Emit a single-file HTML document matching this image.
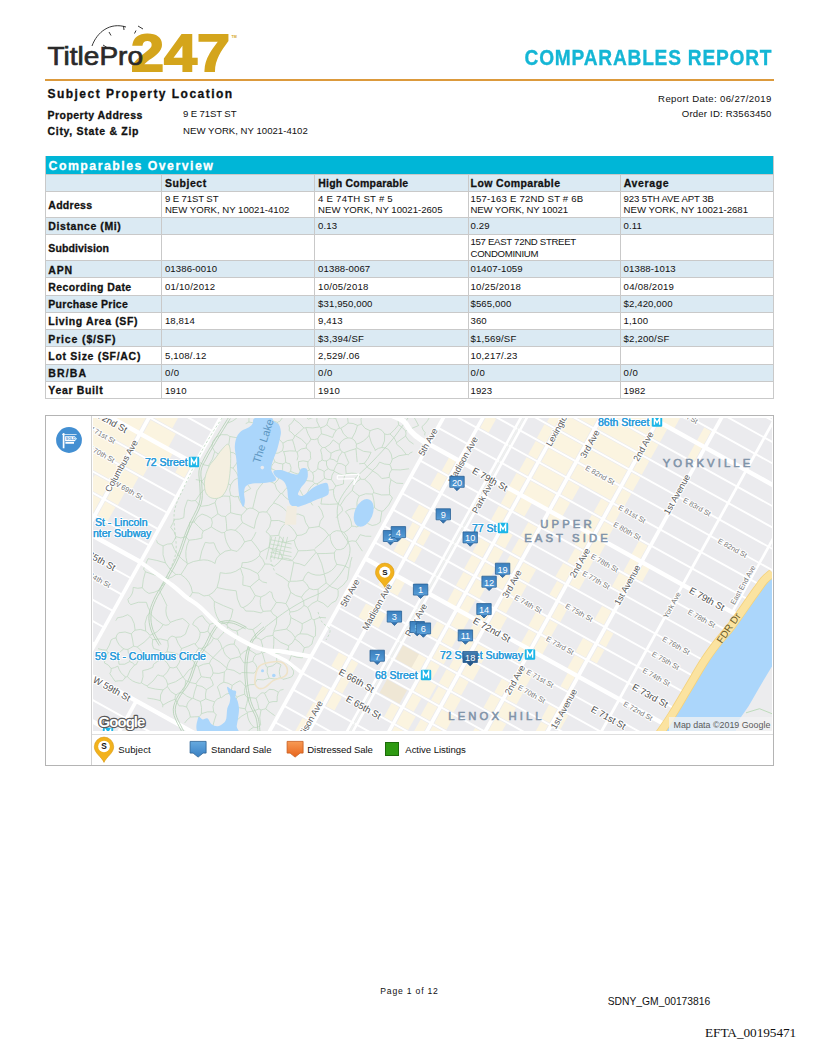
<!DOCTYPE html>
<html><head><meta charset="utf-8">
<style>
html,body{margin:0;padding:0;background:#fff;}
body{width:816px;height:1056px;position:relative;overflow:hidden;font-family:"Liberation Sans",sans-serif;color:#111;}
.abs{position:absolute;white-space:nowrap;}
.t{position:absolute;white-space:nowrap;line-height:1;}
.r{position:absolute;}
#rule{position:absolute;left:45px;top:79.2px;width:728.5px;height:1.7px;background:#dc9a3c;}
</style></head><body>
<!-- LOGO -->
<svg class="abs" style="left:40px;top:18px" width="210" height="60" viewBox="40 18 210 60">
 <path d="M92 46 C97 32 110 22 126 27" fill="none" stroke="#222" stroke-width="0.9"/>
 <path d="M103 45 L107 47.5 M109 32 L111 35.5 M123.5 26 L124 30 M136 30.5 L134.5 33.5 M138 26 L143 29" fill="none" stroke="#222" stroke-width="0.9"/>
 <text x="131" y="71.3" font-family="Liberation Sans" font-weight="bold" font-size="52.5" fill="#d4a51c" stroke="#d4a51c" stroke-width="1.8" textLength="99" lengthAdjust="spacingAndGlyphs">247</text>
 <text x="47.5" y="65" font-family="Liberation Sans" font-size="26.5" fill="#2a2a2a" textLength="95.5" lengthAdjust="spacingAndGlyphs" stroke="#2a2a2a" stroke-width="0.7">TitlePro</text>
 <text x="231.5" y="37.5" font-family="Liberation Sans" font-size="3.6" font-weight="bold" fill="#d4a51c">TM</text>
</svg>
<div id="rule"></div>
<div class="r" style="left:45px;top:155.6px;width:728.5px;height:18.4px;background:#00b6d7;"></div>
<div class="r" style="left:45px;top:174.0px;width:728.5px;height:17.0px;background:#dbeaf3;"></div>
<div class="r" style="left:45px;top:217.0px;width:728.5px;height:17.7px;background:#dbeaf3;"></div>
<div class="r" style="left:45px;top:260.2px;width:728.5px;height:17.4px;background:#dbeaf3;"></div>
<div class="r" style="left:45px;top:295.0px;width:728.5px;height:17.3px;background:#dbeaf3;"></div>
<div class="r" style="left:45px;top:329.5px;width:728.5px;height:17.1px;background:#dbeaf3;"></div>
<div class="r" style="left:45px;top:364.0px;width:728.5px;height:17.4px;background:#dbeaf3;"></div>
<div class="r" style="left:45px;top:173.5px;width:728.5px;height:1px;background:#c9c9c9;"></div>
<div class="r" style="left:45px;top:190.5px;width:728.5px;height:1px;background:#c9c9c9;"></div>
<div class="r" style="left:45px;top:216.5px;width:728.5px;height:1px;background:#c9c9c9;"></div>
<div class="r" style="left:45px;top:234.2px;width:728.5px;height:1px;background:#c9c9c9;"></div>
<div class="r" style="left:45px;top:259.7px;width:728.5px;height:1px;background:#c9c9c9;"></div>
<div class="r" style="left:45px;top:277.1px;width:728.5px;height:1px;background:#c9c9c9;"></div>
<div class="r" style="left:45px;top:294.5px;width:728.5px;height:1px;background:#c9c9c9;"></div>
<div class="r" style="left:45px;top:311.8px;width:728.5px;height:1px;background:#c9c9c9;"></div>
<div class="r" style="left:45px;top:329.0px;width:728.5px;height:1px;background:#c9c9c9;"></div>
<div class="r" style="left:45px;top:346.1px;width:728.5px;height:1px;background:#c9c9c9;"></div>
<div class="r" style="left:45px;top:363.5px;width:728.5px;height:1px;background:#c9c9c9;"></div>
<div class="r" style="left:45px;top:380.9px;width:728.5px;height:1px;background:#c9c9c9;"></div>
<div class="r" style="left:45px;top:397.9px;width:728.5px;height:1px;background:#c9c9c9;"></div>
<div class="r" style="left:44.5px;top:156px;width:1px;height:242.9px;background:#c9c9c9;"></div>
<div class="r" style="left:161.1px;top:174px;width:1px;height:224.9px;background:#c9c9c9;"></div>
<div class="r" style="left:314.3px;top:174px;width:1px;height:224.9px;background:#c9c9c9;"></div>
<div class="r" style="left:467.5px;top:174px;width:1px;height:224.9px;background:#c9c9c9;"></div>
<div class="r" style="left:619.8px;top:174px;width:1px;height:224.9px;background:#c9c9c9;"></div>
<div class="r" style="left:772.5px;top:156px;width:1px;height:242.9px;background:#c9c9c9;"></div>
<!-- MAPBOX -->
<div class="abs" style="left:45px;top:415px;width:727px;height:348.8px;border:1px solid #b4b4b4;"></div>
<div class="abs" style="left:91px;top:416px;width:1px;height:349px;background:#d2d2d2;"></div>
<div class="abs" style="left:92px;top:734.2px;width:680.5px;height:1px;background:#dedede;"></div>
<svg class="abs" style="left:55px;top:425.5px" width="28" height="28" viewBox="-14 -14 28 28"><circle r="12.9" fill="#438fd2"/>
<path d="M-5.4 -6.9 v15.2" fill="none" stroke="#fff" stroke-width="1.7"/>
<path d="M-7 -5.5 h14.6" fill="none" stroke="#fff" stroke-width="0.7"/>
<path d="M-3.9 -3.8 h9.6 l2.2 2.5 l-2.2 2.5 h-9.6z M-3.6 2 h8.6 v1.7 h-8.6z" fill="#fff"/>
<text x="-3.2" y="-0.1" font-family="Liberation Sans" font-size="3.5" font-weight="bold" fill="#438fd2">SOLD</text></svg>
<svg class="abs" style="left:93px;top:418px" width="679" height="313" viewBox="93 418 679 313">
<defs><filter id="bl" x="83" y="408" width="699" height="333" filterUnits="userSpaceOnUse"><feGaussianBlur stdDeviation="0.45"/></filter></defs><g filter="url(#bl)"><rect x="93" y="418" width="679" height="313" fill="#ebebee"/>
<polygon points="530.7,480.9 555.2,494.5 547.7,508.0 523.2,494.4" fill="#fbf4e0"/>
<polygon points="539.8,464.5 564.3,478.1 556.7,491.7 532.3,478.1" fill="#fbf4e0"/>
<polygon points="548.8,448.2 573.3,461.7 565.8,475.3 541.3,461.7" fill="#fbf4e0"/>
<polygon points="557.9,431.8 582.4,445.4 574.9,458.9 550.4,445.4" fill="#fbf4e0"/>
<polygon points="567.0,415.5 591.5,429.0 583.9,442.6 559.5,429.0" fill="#fbf4e0"/>
<polygon points="576.0,399.1 600.5,412.7 593.0,426.2 568.5,412.7" fill="#fbf4e0"/>
<polygon points="585.1,382.8 609.6,396.3 602.1,409.9 577.6,396.3" fill="#fbf4e0"/>
<polygon points="594.2,366.4 618.7,380.0 611.1,393.5 586.6,380.0" fill="#fbf4e0"/>
<polygon points="603.2,350.0 627.7,363.6 620.2,377.2 595.7,363.6" fill="#fbf4e0"/>
<polygon points="612.3,333.7 636.8,347.3 629.3,360.8 604.8,347.2" fill="#fbf4e0"/>
<polygon points="577.9,464.3 618.0,486.5 610.5,500.1 570.4,477.8" fill="#fbf4e0"/>
<polygon points="586.9,447.9 627.1,470.2 619.6,483.7 579.4,461.5" fill="#fbf4e0"/>
<polygon points="596.0,431.6 636.1,453.8 628.6,467.4 588.5,445.1" fill="#fbf4e0"/>
<polygon points="605.1,415.2 645.2,437.5 637.7,451.0 597.6,428.8" fill="#fbf4e0"/>
<polygon points="614.1,398.8 654.3,421.1 646.8,434.7 606.6,412.4" fill="#fbf4e0"/>
<polygon points="623.2,382.5 663.3,404.7 655.8,418.3 615.7,396.0" fill="#fbf4e0"/>
<polygon points="632.3,366.1 672.4,388.4 664.9,401.9 624.8,379.7" fill="#fbf4e0"/>
<polygon points="641.3,349.8 681.5,372.0 674.0,385.6 633.8,363.3" fill="#fbf4e0"/>
<polygon points="640.7,456.3 649.3,461.1 641.8,474.7 633.2,469.9" fill="#fbf4e0"/>
<polygon points="649.8,440.0 658.4,444.8 650.9,458.3 642.2,453.5" fill="#fbf4e0"/>
<polygon points="658.8,423.6 667.5,428.4 660.0,442.0 651.3,437.2" fill="#fbf4e0"/>
<polygon points="667.9,407.3 681.7,414.9 674.2,428.5 660.4,420.8" fill="#fbf4e0"/>
<polygon points="677.0,390.9 690.8,398.6 683.3,412.1 669.4,404.5" fill="#fbf4e0"/>
<polygon points="686.0,374.6 699.9,382.2 692.3,395.8 678.5,388.1" fill="#fbf4e0"/>
<polygon points="695.1,443.7 702.0,447.6 694.5,461.1 687.6,457.3" fill="#fbf4e0"/>
<polygon points="704.2,427.4 711.1,431.2 703.6,444.8 696.7,440.9" fill="#fbf4e0"/>
<polygon points="631.6,472.7 640.3,477.5 632.8,491.0 624.1,486.2" fill="#fbf4e0"/>
<polygon points="349.4,808.0 361.2,814.6 357.3,821.7 345.5,815.1" fill="#fbf4e0"/>
<polygon points="366.3,817.4 373.9,821.6 369.9,828.7 362.4,824.5" fill="#fbf4e0"/>
<polygon points="378.4,824.1 388.7,829.8 384.8,836.9 374.5,831.2" fill="#fbf4e0"/>
<polygon points="457.9,868.1 466.3,872.8 462.4,879.9 454.0,875.2" fill="#fbf4e0"/>
<polygon points="344.4,783.9 353.9,789.1 346.4,802.7 336.9,797.4" fill="#fbf4e0"/>
<polygon points="358.5,791.6 370.3,798.2 362.8,811.8 350.9,805.2" fill="#fbf4e0"/>
<polygon points="375.4,801.0 382.9,805.2 375.4,818.8 367.9,814.6" fill="#fbf4e0"/>
<polygon points="387.5,807.7 396.3,812.6 388.8,826.2 380.0,821.3" fill="#fbf4e0"/>
<polygon points="418.5,824.9 427.6,830.0 420.1,843.5 411.0,838.5" fill="#fbf4e0"/>
<polygon points="432.2,832.5 439.7,836.7 432.2,850.2 424.7,846.1" fill="#fbf4e0"/>
<polygon points="464.8,850.6 475.4,856.5 467.9,870.0 457.2,864.1" fill="#fbf4e0"/>
<polygon points="285.9,751.4 292.8,755.2 285.3,768.8 278.4,765.0" fill="#fbf4e0"/>
<polygon points="306.4,741.4 313.3,745.2 305.8,758.8 298.9,754.9" fill="#fbf4e0"/>
<polygon points="367.5,775.3 379.6,782.0 372.1,795.5 360.0,788.8" fill="#fbf4e0"/>
<polygon points="384.6,784.7 392.0,788.9 384.5,802.4 377.0,798.3" fill="#fbf4e0"/>
<polygon points="396.6,791.4 407.8,797.6 400.3,811.2 389.0,804.9" fill="#fbf4e0"/>
<polygon points="429.2,809.5 436.7,813.6 429.2,827.2 421.7,823.1" fill="#fbf4e0"/>
<polygon points="441.2,816.1 452.2,822.2 444.7,835.8 433.7,829.7" fill="#fbf4e0"/>
<polygon points="362.1,750.9 372.0,756.4 364.5,770.0 354.6,764.5" fill="#fbf4e0"/>
<polygon points="376.6,758.9 386.9,764.6 379.4,778.2 369.1,772.5" fill="#fbf4e0"/>
<polygon points="392.8,767.9 401.1,772.5 393.6,786.1 385.2,781.4" fill="#fbf4e0"/>
<polygon points="405.6,775.0 416.9,781.3 409.4,794.8 398.1,788.6" fill="#fbf4e0"/>
<polygon points="450.3,799.8 458.6,804.4 451.1,817.9 442.8,813.4" fill="#fbf4e0"/>
<polygon points="483.6,818.3 493.5,823.7 486.0,837.3 476.1,831.8" fill="#fbf4e0"/>
<polygon points="302.5,717.9 310.9,722.5 303.4,736.1 295.0,731.4" fill="#fbf4e0"/>
<polygon points="385.6,742.6 397.1,748.9 389.6,762.5 378.1,756.1" fill="#fbf4e0"/>
<polygon points="402.4,751.9 410.1,756.1 402.6,769.7 394.9,765.4" fill="#fbf4e0"/>
<polygon points="414.7,758.7 426.5,765.2 419.0,778.8 407.2,772.2" fill="#fbf4e0"/>
<polygon points="459.4,783.4 468.8,788.7 461.3,802.2 451.9,797.0" fill="#fbf4e0"/>
<polygon points="493.9,802.5 502.6,807.4 495.1,820.9 486.3,816.1" fill="#fbf4e0"/>
<polygon points="507.1,809.9 513.7,813.6 506.2,827.1 499.6,823.5" fill="#fbf4e0"/>
<polygon points="313.4,702.5 320.0,706.2 312.4,719.7 305.9,716.1" fill="#fbf4e0"/>
<polygon points="333.6,692.3 341.9,696.9 334.4,710.5 326.1,705.9" fill="#fbf4e0"/>
<polygon points="394.7,726.2 403.8,731.2 396.3,744.8 387.2,739.8" fill="#fbf4e0"/>
<polygon points="410.3,734.8 419.2,739.8 411.7,753.3 402.8,748.4" fill="#fbf4e0"/>
<polygon points="423.8,742.3 435.5,748.8 428.0,762.4 416.2,755.9" fill="#fbf4e0"/>
<polygon points="456.8,760.6 463.9,764.6 456.4,778.1 449.2,774.2" fill="#fbf4e0"/>
<polygon points="468.4,767.1 478.6,772.7 471.1,786.3 460.9,780.6" fill="#fbf4e0"/>
<polygon points="322.4,686.1 329.0,689.8 321.5,703.4 314.9,699.7" fill="#fbf4e0"/>
<polygon points="342.6,676.0 349.9,680.0 342.4,693.5 335.1,689.5" fill="#fbf4e0"/>
<polygon points="391.6,703.1 399.2,707.3 391.7,720.9 384.1,716.7" fill="#fbf4e0"/>
<polygon points="403.8,709.9 415.7,716.4 408.1,730.0 396.3,723.4" fill="#fbf4e0"/>
<polygon points="420.7,719.3 428.3,723.4 420.8,737.0 413.2,732.8" fill="#fbf4e0"/>
<polygon points="432.8,726.0 442.4,731.2 434.8,744.8 425.3,739.5" fill="#fbf4e0"/>
<polygon points="464.3,743.4 473.0,748.2 465.4,761.8 456.8,757.0" fill="#fbf4e0"/>
<polygon points="477.5,750.7 485.2,755.0 477.7,768.5 470.0,764.3" fill="#fbf4e0"/>
<polygon points="510.2,768.9 520.7,774.7 513.2,788.2 502.7,782.4" fill="#fbf4e0"/>
<polygon points="525.3,777.2 531.8,780.8 524.3,794.4 517.7,790.8" fill="#fbf4e0"/>
<polygon points="351.7,659.6 358.2,663.2 350.7,676.8 344.2,673.2" fill="#fbf4e0"/>
<polygon points="412.8,693.5 421.4,698.2 413.8,711.8 405.3,707.1" fill="#fbf4e0"/>
<polygon points="428.1,702.0 437.3,707.1 429.8,720.6 420.6,715.5" fill="#fbf4e0"/>
<polygon points="441.9,709.6 453.9,716.3 446.4,729.8 434.4,723.2" fill="#fbf4e0"/>
<polygon points="475.0,728.0 482.0,731.9 474.5,745.4 467.5,741.5" fill="#fbf4e0"/>
<polygon points="486.6,734.4 495.3,739.2 487.8,752.8 479.1,747.9" fill="#fbf4e0"/>
<polygon points="520.4,753.1 529.8,758.3 522.3,771.9 512.9,766.7" fill="#fbf4e0"/>
<polygon points="534.3,760.8 540.9,764.5 533.4,778.0 526.8,774.4" fill="#fbf4e0"/>
<polygon points="338.8,652.5 347.2,657.1 339.6,670.7 331.3,666.0" fill="#fbf4e0"/>
<polygon points="421.9,677.1 433.1,683.4 425.6,696.9 414.4,690.7" fill="#fbf4e0"/>
<polygon points="438.5,686.4 446.4,690.7 438.9,704.3 431.0,699.9" fill="#fbf4e0"/>
<polygon points="450.9,693.2 461.1,698.9 453.6,712.4 443.4,706.8" fill="#fbf4e0"/>
<polygon points="495.6,718.0 506.2,723.9 498.7,737.4 488.1,731.6" fill="#fbf4e0"/>
<polygon points="543.4,744.5 550.0,748.1 542.5,761.7 535.9,758.0" fill="#fbf4e0"/>
<polygon points="418.3,653.8 426.4,658.3 418.9,671.8 410.8,667.3" fill="#fbf4e0"/>
<polygon points="431.0,660.8 439.7,665.7 432.2,679.2 423.5,674.3" fill="#fbf4e0"/>
<polygon points="446.4,669.3 455.5,674.4 448.0,687.9 438.9,682.9" fill="#fbf4e0"/>
<polygon points="460.0,676.9 468.7,681.7 461.2,695.3 452.5,690.4" fill="#fbf4e0"/>
<polygon points="491.0,694.1 500.2,699.1 492.6,712.7 483.5,707.6" fill="#fbf4e0"/>
<polygon points="504.7,701.7 515.9,707.9 508.4,721.4 497.2,715.2" fill="#fbf4e0"/>
<polygon points="541.0,721.8 547.9,725.6 540.4,739.2 533.4,735.3" fill="#fbf4e0"/>
<polygon points="378.9,610.5 386.0,614.5 378.5,628.0 371.4,624.1" fill="#fbf4e0"/>
<polygon points="440.0,644.4 451.2,650.6 443.7,664.2 432.5,658.0" fill="#fbf4e0"/>
<polygon points="456.7,653.6 464.5,658.0 457.0,671.6 449.1,667.2" fill="#fbf4e0"/>
<polygon points="469.1,660.5 480.5,666.8 472.9,680.4 461.6,674.1" fill="#fbf4e0"/>
<polygon points="501.8,678.7 509.2,682.8 501.7,696.3 494.3,692.2" fill="#fbf4e0"/>
<polygon points="513.8,685.3 524.0,691.0 516.5,704.5 506.3,698.9" fill="#fbf4e0"/>
<polygon points="549.0,704.8 557.0,709.3 549.5,722.8 541.5,718.4" fill="#fbf4e0"/>
<polygon points="561.5,711.8 568.1,715.4 560.6,729.0 554.0,725.3" fill="#fbf4e0"/>
<polygon points="366.0,603.4 374.4,608.0 366.8,621.6 358.5,616.9" fill="#fbf4e0"/>
<polygon points="437.0,621.4 444.6,625.6 437.0,639.1 429.5,634.9" fill="#fbf4e0"/>
<polygon points="449.1,628.1 459.3,633.7 451.8,647.3 441.6,641.6" fill="#fbf4e0"/>
<polygon points="465.2,637.0 473.6,641.7 466.1,655.2 457.7,650.6" fill="#fbf4e0"/>
<polygon points="478.1,644.2 488.8,650.1 481.3,663.6 470.6,657.7" fill="#fbf4e0"/>
<polygon points="522.8,669.0 532.7,674.4 525.1,687.9 515.3,682.5" fill="#fbf4e0"/>
<polygon points="397.0,577.8 405.1,582.3 397.6,595.8 389.5,591.4" fill="#fbf4e0"/>
<polygon points="458.2,611.7 469.7,618.1 462.1,631.6 450.7,625.3" fill="#fbf4e0"/>
<polygon points="474.9,621.0 482.7,625.3 475.2,638.9 467.4,634.6" fill="#fbf4e0"/>
<polygon points="519.9,646.0 527.4,650.1 519.8,663.6 512.4,659.5" fill="#fbf4e0"/>
<polygon points="568.0,672.6 575.1,676.5 567.6,690.1 560.5,686.2" fill="#fbf4e0"/>
<polygon points="385.5,571.4 392.5,575.3 385.0,588.9 377.9,585.0" fill="#fbf4e0"/>
<polygon points="454.5,588.3 462.7,592.8 455.2,606.4 447.0,601.9" fill="#fbf4e0"/>
<polygon points="467.2,595.4 475.4,599.9 467.9,613.5 459.7,608.9" fill="#fbf4e0"/>
<polygon points="482.4,603.7 491.7,608.9 484.2,622.5 474.8,617.3" fill="#fbf4e0"/>
<polygon points="496.3,611.5 507.1,617.5 499.6,631.0 488.8,625.0" fill="#fbf4e0"/>
<polygon points="528.7,629.4 536.4,633.7 528.9,647.3 521.1,643.0" fill="#fbf4e0"/>
<polygon points="541.0,636.2 549.7,641.1 542.2,654.6 533.5,649.8" fill="#fbf4e0"/>
<polygon points="574.8,655.0 584.2,660.2 576.7,673.7 567.2,668.5" fill="#fbf4e0"/>
<polygon points="415.2,545.1 422.0,548.9 414.5,562.4 407.7,558.7" fill="#fbf4e0"/>
<polygon points="463.4,571.9 471.8,576.5 464.2,590.1 455.9,585.4" fill="#fbf4e0"/>
<polygon points="476.3,579.0 487.0,585.0 479.5,598.5 468.8,592.6" fill="#fbf4e0"/>
<polygon points="505.3,595.1 513.6,599.7 506.1,613.2 497.8,608.7" fill="#fbf4e0"/>
<polygon points="536.0,612.1 545.5,617.4 538.0,630.9 528.5,625.7" fill="#fbf4e0"/>
<polygon points="550.0,619.9 557.9,624.3 550.4,637.8 542.5,633.4" fill="#fbf4e0"/>
<polygon points="583.0,638.1 593.2,643.8 585.7,657.4 575.5,651.7" fill="#fbf4e0"/>
<polygon points="597.8,646.4 604.4,650.0 596.9,663.6 590.3,659.9" fill="#fbf4e0"/>
<polygon points="401.1,537.3 410.6,542.6 403.1,556.2 393.6,550.9" fill="#fbf4e0"/>
<polygon points="424.2,528.8 430.7,532.4 423.2,545.9 416.7,542.3" fill="#fbf4e0"/>
<polygon points="471.8,555.1 480.8,560.1 473.3,573.7 464.2,568.7" fill="#fbf4e0"/>
<polygon points="485.4,562.7 495.6,568.3 488.1,581.9 477.9,576.2" fill="#fbf4e0"/>
<polygon points="501.5,571.6 509.9,576.2 502.3,589.8 494.0,585.2" fill="#fbf4e0"/>
<polygon points="514.4,578.8 526.8,585.6 519.3,599.2 506.9,592.3" fill="#fbf4e0"/>
<polygon points="559.1,603.5 567.8,608.3 560.3,621.9 551.6,617.1" fill="#fbf4e0"/>
<polygon points="606.9,630.0 613.4,633.6 605.9,647.2 599.3,643.6" fill="#fbf4e0"/>
<polygon points="412.6,522.3 419.7,526.3 412.2,539.8 405.1,535.9" fill="#fbf4e0"/>
<polygon points="480.1,538.3 489.9,543.8 482.4,557.3 472.6,551.9" fill="#fbf4e0"/>
<polygon points="494.4,546.3 503.4,551.3 495.9,564.9 486.9,559.9" fill="#fbf4e0"/>
<polygon points="510.0,554.9 518.9,559.9 511.4,573.4 502.4,568.5" fill="#fbf4e0"/>
<polygon points="523.5,562.4 536.1,569.4 528.6,583.0 516.0,576.0" fill="#fbf4e0"/>
<polygon points="557.1,581.0 563.6,584.7 556.1,598.2 549.5,594.6" fill="#fbf4e0"/>
<polygon points="602.0,605.9 611.4,611.1 603.9,624.7 594.4,619.5" fill="#fbf4e0"/>
<polygon points="419.1,504.5 428.8,509.9 421.2,523.5 411.5,518.1" fill="#fbf4e0"/>
<polygon points="503.5,529.9 512.6,535.0 505.1,548.5 496.0,543.5" fill="#fbf4e0"/>
<polygon points="519.1,538.6 528.0,543.5 520.5,557.1 511.5,552.1" fill="#fbf4e0"/>
<polygon points="563.1,563.0 572.7,568.3 565.2,581.9 555.5,576.5" fill="#fbf4e0"/>
<polygon points="577.2,570.8 586.6,576.0 579.1,589.6 569.7,584.4" fill="#fbf4e0"/>
<polygon points="498.7,505.9 508.0,511.1 500.5,524.6 491.2,519.5" fill="#fbf4e0"/>
<polygon points="528.2,522.3 537.1,527.2 529.5,540.7 520.7,535.8" fill="#fbf4e0"/>
<polygon points="575.1,548.2 581.8,551.9 574.2,565.5 567.5,561.8" fill="#fbf4e0"/>
<polygon points="586.3,554.5 594.3,558.9 586.8,572.5 578.8,568.0" fill="#fbf4e0"/>
<polygon points="619.4,572.8 629.5,578.4 622.0,592.0 611.9,586.4" fill="#fbf4e0"/>
<polygon points="437.9,472.2 446.9,477.2 439.4,490.7 430.3,485.7" fill="#fbf4e0"/>
<polygon points="508.3,489.8 517.1,494.7 509.6,508.3 500.8,503.4" fill="#fbf4e0"/>
<polygon points="521.6,497.2 532.0,503.0 524.5,516.6 514.1,510.8" fill="#fbf4e0"/>
<polygon points="550.7,513.3 560.1,518.6 552.6,532.1 543.2,526.9" fill="#fbf4e0"/>
<polygon points="582.1,530.8 590.8,535.6 583.3,549.1 574.6,544.3" fill="#fbf4e0"/>
<polygon points="595.4,538.1 605.9,543.9 598.3,557.5 587.9,551.7" fill="#fbf4e0"/>
<polygon points="630.9,557.8 638.6,562.1 631.1,575.6 623.4,571.4" fill="#fbf4e0"/>
<polygon points="643.1,564.6 649.7,568.2 642.2,581.8 635.6,578.1" fill="#fbf4e0"/>
<polygon points="449.3,457.1 456.0,460.8 448.4,474.4 441.8,470.7" fill="#fbf4e0"/>
<polygon points="516.5,473.0 526.2,478.4 518.6,491.9 509.0,486.6" fill="#fbf4e0"/>
<polygon points="559.7,497.0 570.1,502.7 562.5,516.3 552.2,510.5" fill="#fbf4e0"/>
<polygon points="591.8,514.7 599.9,519.2 592.4,532.8 584.3,528.3" fill="#fbf4e0"/>
<polygon points="604.4,521.8 614.0,527.0 606.4,540.6 596.9,535.3" fill="#fbf4e0"/>
<polygon points="639.0,540.9 647.6,545.7 640.1,559.3 631.5,554.5" fill="#fbf4e0"/>
<polygon points="526.6,457.2 535.2,462.0 527.7,475.6 519.0,470.8" fill="#fbf4e0"/>
<polygon points="568.8,480.6 579.7,486.7 572.2,500.2 561.3,494.2" fill="#fbf4e0"/>
<polygon points="601.2,498.6 609.0,502.9 601.4,516.4 593.7,512.1" fill="#fbf4e0"/>
<polygon points="613.5,505.4 621.5,509.8 614.0,523.4 606.0,519.0" fill="#fbf4e0"/>
<polygon points="487.7,414.3 496.1,418.9 488.6,432.5 480.2,427.8" fill="#fbf4e0"/>
<polygon points="535.7,440.9 544.3,445.7 536.8,459.2 528.2,454.5" fill="#fbf4e0"/>
<polygon points="622.6,489.0 631.2,493.8 623.7,507.4 615.1,502.6" fill="#fbf4e0"/>
<polygon points="496.8,397.9 505.3,402.7 497.8,416.2 489.3,411.5" fill="#fbf4e0"/>
<polygon points="544.4,424.3 553.4,429.3 545.8,442.9 536.9,437.9" fill="#fbf4e0"/>
<polygon points="554.5,408.6 562.4,412.9 554.9,426.5 547.0,422.1" fill="#fbf4e0"/>
<polygon points="524.0,348.9 530.5,352.5 523.0,366.0 516.4,362.4" fill="#fbf4e0"/>
<polygon points="572.4,375.7 580.6,380.2 573.0,393.8 564.9,389.3" fill="#fbf4e0"/>
<polygon points="533.0,332.5 541.0,336.9 533.5,350.5 525.5,346.1" fill="#fbf4e0"/>
<polygon points="582.0,359.6 589.6,363.9 582.1,377.4 574.4,373.2" fill="#fbf4e0"/>
<polygon points="551.2,299.8 559.4,304.4 551.9,317.9 543.6,313.4" fill="#fbf4e0"/>
<polygon points="598.1,325.8 607.7,331.2 600.2,344.7 590.6,339.4" fill="#fbf4e0"/>
<polygon points="403.1,645.3 419.0,654.2 411.5,667.7 395.6,658.9" fill="#efe7d5"/>
<polygon points="387.1,679.2 407.0,690.2 399.5,703.8 379.6,692.8" fill="#efe7d5"/>
<polygon points="423.1,677.8 436.6,685.3 429.1,698.8 415.6,691.4" fill="#fbf4e0"/>
<polygon points="69.2,438.9 118.9,466.4 111.4,480.0 61.7,452.4" fill="#fbf4e0"/>
<polygon points="78.3,422.5 127.9,450.1 120.4,463.6 70.8,436.1" fill="#fbf4e0"/>
<polygon points="87.3,406.2 137.0,433.7 129.5,447.3 79.8,419.7" fill="#fbf4e0"/>
<polygon points="96.4,389.8 146.1,417.3 138.6,430.9 88.9,403.4" fill="#fbf4e0"/>
<polygon points="105.5,373.5 155.1,401.0 147.6,414.5 98.0,387.0" fill="#fbf4e0"/>
<polygon points="94.9,474.5 109.8,482.8 102.3,496.3 87.4,488.1" fill="#fbf4e0"/>
<polygon points="88.3,492.2 100.8,499.1 93.2,512.7 80.8,505.8" fill="#fbf4e0"/>
<polygon points="141.6,436.2 172.7,453.5 165.2,467.1 134.0,449.8" fill="#fbf4e0"/>
<polygon points="182.8,459.1 191.9,464.1 184.3,477.7 175.3,472.6" fill="#fbf4e0"/>
<polygon points="150.6,419.9 175.8,433.8 168.3,447.4 143.1,433.4" fill="#fbf4e0"/>
<polygon points="159.7,403.5 179.8,414.7 172.3,428.2 152.2,417.1" fill="#fbf4e0"/>
<polygon points="132.5,452.6 150.6,462.6 143.1,476.2 125.0,466.1" fill="#fbf4e0"/>
<polygon points="123.4,468.9 138.5,477.3 131.0,490.9 115.9,482.5" fill="#fbf4e0"/>
<polygon points="114.4,485.3 125.4,491.4 117.9,505.0 106.9,498.8" fill="#fbf4e0"/>
<polygon points="105.3,501.6 115.4,507.2 107.8,520.8 97.8,515.2" fill="#fbf4e0"/>
<polygon points="60.3,519.4 75.2,527.7 67.7,541.3 52.7,533.0" fill="#fbf4e0"/>
<polygon points="54.6,559.0 64.5,564.5 57.0,578.1 47.0,572.6" fill="#fbf4e0"/>
<polygon points="78.1,550.7 85.6,554.9 78.1,568.5 70.6,564.3" fill="#fbf4e0"/>
<polygon points="559.3,-189.3 726.3,-96.7 250.6,761.4 83.6,668.9" fill="#ededee"/>
<line x1="-311.3" y1="561.7" x2="650.7" y2="1095.0" stroke="#ffffff" stroke-width="1.90" />
<line x1="-302.3" y1="545.3" x2="659.8" y2="1078.6" stroke="#ffffff" stroke-width="1.90" />
<line x1="-293.2" y1="529.0" x2="668.9" y2="1062.3" stroke="#ffffff" stroke-width="1.90" />
<line x1="-284.1" y1="512.6" x2="677.9" y2="1045.9" stroke="#ffffff" stroke-width="4.40" />
<line x1="-275.1" y1="496.3" x2="687.0" y2="1029.5" stroke="#ffffff" stroke-width="1.90" />
<line x1="-265.2" y1="478.4" x2="696.9" y2="1011.7" stroke="#ffffff" stroke-width="4.40" />
<line x1="-259.7" y1="468.5" x2="86.1" y2="660.2" stroke="#ffffff" stroke-width="1.90" />
<line x1="256.6" y1="754.7" x2="702.4" y2="1001.8" stroke="#ffffff" stroke-width="1.90" />
<line x1="-250.6" y1="452.2" x2="95.2" y2="643.9" stroke="#ffffff" stroke-width="1.90" />
<line x1="265.6" y1="738.4" x2="711.4" y2="985.5" stroke="#ffffff" stroke-width="1.90" />
<line x1="-241.6" y1="435.8" x2="104.2" y2="627.5" stroke="#ffffff" stroke-width="1.90" />
<line x1="274.7" y1="722.0" x2="720.5" y2="969.1" stroke="#ffffff" stroke-width="1.90" />
<line x1="-232.5" y1="419.5" x2="113.3" y2="611.2" stroke="#ffffff" stroke-width="1.90" />
<line x1="283.8" y1="705.7" x2="729.6" y2="952.8" stroke="#ffffff" stroke-width="1.90" />
<line x1="-223.4" y1="403.1" x2="122.4" y2="594.8" stroke="#ffffff" stroke-width="1.90" />
<line x1="292.8" y1="689.3" x2="738.6" y2="936.4" stroke="#ffffff" stroke-width="1.90" />
<line x1="-214.4" y1="386.8" x2="131.4" y2="578.5" stroke="#ffffff" stroke-width="1.90" />
<line x1="301.9" y1="672.9" x2="747.7" y2="920.0" stroke="#ffffff" stroke-width="1.90" />
<line x1="-205.3" y1="370.4" x2="140.5" y2="562.1" stroke="#ffffff" stroke-width="4.60" />
<line x1="311.0" y1="656.6" x2="756.8" y2="903.7" stroke="#ffffff" stroke-width="1.90" />
<line x1="-196.3" y1="354.0" x2="149.6" y2="545.7" stroke="#ffffff" stroke-width="1.90" />
<line x1="320.0" y1="640.2" x2="765.8" y2="887.3" stroke="#ffffff" stroke-width="1.90" />
<line x1="-187.2" y1="337.7" x2="158.6" y2="529.4" stroke="#ffffff" stroke-width="1.90" />
<line x1="329.1" y1="623.9" x2="774.9" y2="871.0" stroke="#ffffff" stroke-width="1.90" />
<line x1="-178.1" y1="321.3" x2="167.7" y2="513.0" stroke="#ffffff" stroke-width="1.90" />
<line x1="338.2" y1="607.5" x2="784.0" y2="854.6" stroke="#ffffff" stroke-width="1.90" />
<line x1="-169.1" y1="305.0" x2="176.8" y2="496.7" stroke="#ffffff" stroke-width="1.90" />
<line x1="347.2" y1="591.2" x2="793.0" y2="838.3" stroke="#ffffff" stroke-width="1.90" />
<line x1="-160.0" y1="288.6" x2="185.8" y2="480.3" stroke="#ffffff" stroke-width="1.90" />
<line x1="356.3" y1="574.8" x2="802.1" y2="821.9" stroke="#ffffff" stroke-width="1.90" />
<line x1="-150.9" y1="272.3" x2="194.9" y2="464.0" stroke="#ffffff" stroke-width="4.40" />
<line x1="365.4" y1="558.5" x2="811.2" y2="805.6" stroke="#ffffff" stroke-width="4.40" />
<line x1="-141.9" y1="255.9" x2="204.0" y2="447.6" stroke="#ffffff" stroke-width="1.90" />
<line x1="374.4" y1="542.1" x2="820.2" y2="789.2" stroke="#ffffff" stroke-width="1.90" />
<line x1="-132.8" y1="239.6" x2="213.0" y2="431.3" stroke="#ffffff" stroke-width="1.90" />
<line x1="383.5" y1="525.7" x2="829.3" y2="772.8" stroke="#ffffff" stroke-width="1.90" />
<line x1="-123.7" y1="223.2" x2="222.1" y2="414.9" stroke="#ffffff" stroke-width="1.90" />
<line x1="392.6" y1="509.4" x2="838.4" y2="756.5" stroke="#ffffff" stroke-width="1.90" />
<line x1="-114.7" y1="206.8" x2="231.2" y2="398.5" stroke="#ffffff" stroke-width="1.90" />
<line x1="401.6" y1="493.0" x2="847.4" y2="740.1" stroke="#ffffff" stroke-width="1.90" />
<line x1="-105.6" y1="190.5" x2="240.2" y2="382.2" stroke="#ffffff" stroke-width="1.90" />
<line x1="410.7" y1="476.7" x2="856.5" y2="723.8" stroke="#ffffff" stroke-width="1.90" />
<line x1="-96.5" y1="174.1" x2="249.3" y2="365.8" stroke="#ffffff" stroke-width="1.90" />
<line x1="419.8" y1="460.3" x2="865.6" y2="707.4" stroke="#ffffff" stroke-width="1.90" />
<line x1="-87.5" y1="157.8" x2="258.4" y2="349.5" stroke="#ffffff" stroke-width="4.40" />
<line x1="428.8" y1="444.0" x2="874.6" y2="691.1" stroke="#ffffff" stroke-width="4.40" />
<line x1="-78.4" y1="141.4" x2="267.4" y2="333.1" stroke="#ffffff" stroke-width="1.90" />
<line x1="437.9" y1="427.6" x2="883.7" y2="674.7" stroke="#ffffff" stroke-width="1.90" />
<line x1="-69.3" y1="125.1" x2="276.5" y2="316.8" stroke="#ffffff" stroke-width="1.90" />
<line x1="447.0" y1="411.3" x2="892.8" y2="658.4" stroke="#ffffff" stroke-width="1.90" />
<line x1="-60.3" y1="108.7" x2="285.6" y2="300.4" stroke="#ffffff" stroke-width="1.90" />
<line x1="456.0" y1="394.9" x2="901.8" y2="642.0" stroke="#ffffff" stroke-width="1.90" />
<line x1="-51.2" y1="92.4" x2="294.6" y2="284.1" stroke="#ffffff" stroke-width="1.90" />
<line x1="465.1" y1="378.5" x2="910.9" y2="625.7" stroke="#ffffff" stroke-width="1.90" />
<line x1="-42.1" y1="76.0" x2="303.7" y2="267.7" stroke="#ffffff" stroke-width="1.90" />
<line x1="474.2" y1="362.2" x2="920.0" y2="609.3" stroke="#ffffff" stroke-width="1.90" />
<line x1="-33.1" y1="59.6" x2="312.8" y2="251.3" stroke="#ffffff" stroke-width="1.90" />
<line x1="483.2" y1="345.8" x2="929.0" y2="592.9" stroke="#ffffff" stroke-width="1.90" />
<line x1="-24.0" y1="43.3" x2="321.8" y2="235.0" stroke="#ffffff" stroke-width="4.40" />
<line x1="492.3" y1="329.5" x2="938.1" y2="576.6" stroke="#ffffff" stroke-width="4.40" />
<line x1="-14.9" y1="26.9" x2="330.9" y2="218.6" stroke="#ffffff" stroke-width="1.90" />
<line x1="501.4" y1="313.1" x2="947.1" y2="560.2" stroke="#ffffff" stroke-width="1.90" />
<line x1="-5.9" y1="10.6" x2="340.0" y2="202.3" stroke="#ffffff" stroke-width="1.90" />
<line x1="510.4" y1="296.8" x2="956.2" y2="543.9" stroke="#ffffff" stroke-width="1.90" />
<line x1="3.2" y1="-5.8" x2="349.0" y2="185.9" stroke="#ffffff" stroke-width="1.90" />
<line x1="519.5" y1="280.4" x2="965.3" y2="527.5" stroke="#ffffff" stroke-width="1.90" />
<line x1="12.3" y1="-22.1" x2="358.1" y2="169.6" stroke="#ffffff" stroke-width="1.90" />
<line x1="528.6" y1="264.1" x2="974.3" y2="511.2" stroke="#ffffff" stroke-width="1.90" />
<line x1="21.3" y1="-38.5" x2="367.2" y2="153.2" stroke="#ffffff" stroke-width="1.90" />
<line x1="537.6" y1="247.7" x2="983.4" y2="494.8" stroke="#ffffff" stroke-width="1.90" />
<line x1="387.9" y1="-13.6" x2="-145.3" y2="948.5" stroke="#ffffff" stroke-width="3.70" />
<line x1="442.8" y1="16.8" x2="-90.5" y2="978.9" stroke="#ffffff" stroke-width="3.70" />
<line x1="613.2" y1="111.3" x2="80.0" y2="1073.3" stroke="#ffffff" stroke-width="3.70" />
<line x1="643.4" y1="128.0" x2="110.1" y2="1090.1" stroke="#ffffff" stroke-width="3.50" />
<line x1="672.5" y1="144.1" x2="139.3" y2="1106.2" stroke="#ffffff" stroke-width="2.60" />
<line x1="677.1" y1="146.7" x2="143.8" y2="1108.7" stroke="#ffffff" stroke-width="2.60" />
<line x1="674.8" y1="145.4" x2="141.5" y2="1107.5" stroke="#eef0ee" stroke-width="1.20" />
<line x1="704.6" y1="161.9" x2="171.3" y2="1124.0" stroke="#ffffff" stroke-width="3.50" />
<line x1="733.6" y1="178.0" x2="200.3" y2="1140.1" stroke="#ffffff" stroke-width="3.70" />
<line x1="778.3" y1="202.7" x2="245.0" y2="1164.8" stroke="#ffffff" stroke-width="3.70" />
<line x1="826.0" y1="229.2" x2="292.8" y2="1191.3" stroke="#ffffff" stroke-width="3.70" />
<line x1="867.2" y1="252.0" x2="333.9" y2="1214.1" stroke="#ffffff" stroke-width="2.80" />
<line x1="850.2" y1="399.6" x2="732.3" y2="612.2" stroke="#ffffff" stroke-width="2.60" />
<line x1="136.3" y1="700.9" x2="-34.9" y2="1009.7" stroke="#ffffff" stroke-width="3.70" />
<line x1="192.1" y1="731.9" x2="20.9" y2="1040.6" stroke="#ffffff" stroke-width="3.70" />
<path d="M215.1 563.5 Q208.1 558.6 199.7 560.3 M215.1 563.5 Q215.5 557.9 220.2 554.6 M220.2 554.6 Q215.7 549.4 214.0 542.8 M199.7 560.3 Q201.0 550.9 205.2 542.4 M205.2 542.4 Q209.5 543.6 214.0 542.8 M271.0 520.7 Q270.8 527.3 266.0 531.9 M271.0 520.7 Q278.9 519.1 285.8 523.0 M278.7 535.4 Q279.7 527.8 285.8 523.1 M278.7 535.4 Q274.5 535.7 270.3 536.0 M285.8 523.0 Q285.9 523.1 285.8 523.1 M270.3 536.0 Q268.9 533.2 266.0 531.9 M217.0 587.5 Q219.4 580.3 220.2 572.7 M217.0 587.5 Q226.4 590.1 236.2 590.8 M220.2 572.7 Q231.4 575.4 240.5 568.3 M242.8 585.1 Q244.6 576.3 240.5 568.3 M217.0 587.5 Q214.2 592.9 208.7 595.3 M236.2 590.8 Q236.5 599.2 240.6 606.6 M214.3 601.4 Q212.1 597.8 208.7 595.3 M214.3 601.4 Q223.4 605.9 233.0 609.5 M240.5 654.8 Q239.1 648.4 234.1 644.1 M240.5 654.8 Q243.7 651.1 248.3 649.4 M237.5 637.8 Q234.2 640.1 234.1 644.1 M237.5 637.8 Q244.3 638.6 248.3 644.2 M248.3 644.2 Q248.5 646.8 248.3 649.4 M347.5 579.5 Q343.9 585.7 337.6 589.3 M338.2 590.9 Q337.9 590.1 337.6 589.3 M296.9 535.5 Q302.1 535.8 306.4 532.7 M296.9 535.5 Q296.1 538.2 294.2 540.3 M294.2 540.3 Q294.9 546.0 298.2 550.8 M298.2 550.8 Q306.4 550.9 314.6 549.8 M285.8 523.0 Q286.9 519.1 289.6 515.9 M285.8 523.1 Q293.5 527.5 296.9 535.5 M303.9 516.2 Q304.8 522.8 309.0 527.9 M303.9 516.2 Q298.6 512.8 292.5 514.3 M309.0 527.9 Q307.2 530.0 306.4 532.7 M289.6 515.9 Q290.8 514.7 292.5 514.3 M278.7 535.4 Q282.6 538.3 284.5 542.7 M284.5 542.7 Q289.2 541.0 294.2 540.3 M293.7 562.7 Q299.5 563.3 304.7 565.8 M293.7 562.7 Q293.4 561.4 292.3 560.5 M304.7 565.8 Q310.3 559.1 315.9 552.6 M292.3 560.5 Q296.0 556.1 298.2 550.8 M315.9 552.6 Q315.0 551.3 314.6 549.8 M347.5 579.5 Q348.5 573.9 349.1 568.2 M324.3 573.9 Q332.5 571.8 336.7 564.4 M324.3 573.9 Q322.4 563.3 317.4 553.6 M336.7 564.4 Q333.8 559.1 334.3 553.0 M317.4 553.6 Q325.9 553.7 334.3 553.0 M349.1 568.2 Q343.5 564.5 336.7 564.4 M324.2 574.2 Q325.7 578.5 326.1 582.9 M326.1 582.9 Q330.9 587.9 337.6 589.3 M308.0 572.0 Q315.6 577.0 324.2 574.2 M315.9 552.6 Q316.9 552.8 317.4 553.6 M392.4 498.1 Q389.4 505.4 383.5 510.8 M318.4 505.9 Q322.5 510.6 323.5 516.9 M309.0 527.9 Q314.1 527.3 319.1 526.5 M319.1 526.5 Q319.3 520.7 323.5 516.9 M314.7 548.6 Q322.8 543.0 328.7 535.0 M319.1 526.5 Q325.3 529.2 328.7 535.0 M320.6 450.0 Q321.4 448.7 322.5 447.6 M322.5 447.6 Q318.0 444.2 317.8 438.6 M317.8 438.6 Q314.5 440.4 310.9 439.2 M310.9 439.2 Q309.8 442.6 306.8 444.5 M310.3 451.8 Q308.0 450.2 306.3 448.0 M306.3 448.0 Q306.0 446.2 306.8 444.5 M333.2 439.9 Q330.5 445.2 325.0 447.5 M325.0 447.5 Q323.8 447.4 322.5 447.6 M317.8 438.6 Q319.1 435.8 321.4 433.8 M321.4 433.8 Q327.2 435.1 332.6 437.5 M187.5 500.1 Q183.5 508.4 183.8 517.7 M183.8 517.7 Q179.4 519.8 174.5 519.3 M170.7 527.3 Q173.0 523.5 174.5 519.3 M186.0 536.7 Q180.9 539.2 175.9 536.7 M186.0 536.7 Q190.0 530.0 189.7 522.2 M175.9 536.7 Q174.7 531.3 170.7 527.3 M187.5 500.1 Q187.6 500.0 187.6 500.0 M208.5 465.7 Q203.7 465.6 200.0 462.6 M208.5 465.7 Q209.2 467.2 210.2 468.6 M195.8 479.6 Q199.0 479.8 201.9 481.2 M210.2 468.6 Q207.4 475.8 201.9 481.2 M187.6 500.0 Q191.5 501.6 195.5 500.5 M195.5 500.5 Q199.8 493.3 206.0 487.6 M201.9 481.2 Q203.5 484.7 206.0 487.6 M256.2 398.5 Q250.7 393.6 243.5 392.2 M233.5 404.0 Q234.3 404.2 235.0 404.4 M243.5 392.2 Q241.0 399.5 235.0 404.4 M264.8 414.0 Q261.4 419.6 256.5 424.0 M264.8 414.0 Q259.5 409.9 254.6 405.3 M254.6 405.3 Q252.5 406.8 250.3 408.4 M250.3 408.4 Q248.4 415.1 248.9 422.0 M248.9 422.0 Q252.8 422.5 256.5 424.0 M256.2 398.5 Q255.6 401.9 254.6 405.3 M235.0 404.4 Q235.9 404.9 236.2 405.9 M236.2 405.9 Q242.7 410.3 250.3 408.4 M245.7 423.6 Q247.3 422.9 248.9 422.0 M236.4 418.4 Q236.8 412.1 236.2 405.9 M189.0 540.2 Q187.1 538.8 186.0 536.7 M189.0 540.2 Q195.6 539.8 202.0 538.1 M202.0 538.1 Q201.4 534.3 203.2 531.0 M189.7 522.2 Q191.9 522.2 194.1 522.0 M194.1 522.0 Q198.5 526.6 203.2 531.0 M270.3 536.0 Q270.1 541.8 269.0 547.4 M269.0 547.4 Q274.1 551.3 280.4 552.4 M292.3 560.5 Q287.8 557.6 282.4 558.0 M280.4 552.4 Q281.4 555.2 282.4 558.0 M242.8 585.1 Q246.5 585.7 250.1 586.8 M240.6 606.6 Q241.7 607.4 243.1 607.6 M243.1 607.6 Q251.5 603.9 255.2 595.5 M250.1 586.8 Q252.9 591.1 255.2 595.5 M263.2 611.4 Q262.0 611.9 261.3 613.0 M263.2 611.4 Q258.6 604.7 260.9 597.0 M261.3 613.0 Q253.7 610.5 245.7 611.0 M245.7 611.0 Q244.6 609.2 243.1 607.6 M260.9 597.0 Q258.1 596.1 255.2 595.5 M219.4 621.0 Q214.6 622.7 209.8 624.4 M219.4 621.0 Q223.2 622.8 227.0 624.8 M227.0 624.8 Q227.0 626.2 228.1 627.0 M228.1 627.0 Q223.1 633.3 217.6 639.2 M213.5 638.1 Q215.4 639.2 217.6 639.2 M213.5 638.1 Q210.0 635.3 207.9 631.1 M207.9 631.1 Q208.5 627.7 209.8 624.4 M214.3 601.4 Q213.5 612.0 219.4 621.0 M233.0 609.5 Q232.1 618.0 227.0 624.8 M244.5 626.7 Q240.9 629.2 236.9 630.9 M236.9 630.9 Q231.7 630.7 228.1 627.0 M223.0 648.4 Q227.5 643.6 234.1 644.1 M223.0 648.4 Q222.5 648.4 222.1 648.2 M222.1 648.2 Q221.1 643.1 217.6 639.2 M237.5 637.8 Q238.4 634.2 236.9 630.9 M189.0 540.2 Q183.6 551.3 187.2 563.1 M175.9 536.7 Q174.4 540.5 171.9 543.7 M171.9 543.7 Q176.1 556.1 187.2 563.1 M199.7 560.3 Q193.1 560.9 187.4 564.1 M187.4 564.1 Q187.1 563.7 187.2 563.1 M157.4 543.0 Q157.1 541.6 156.5 540.3 M171.9 543.7 Q167.1 543.4 163.1 545.9 M163.1 545.9 Q160.1 544.7 157.4 543.0 M228.1 715.5 Q227.8 711.5 230.3 708.2 M214.6 701.7 Q211.8 706.6 213.7 711.9 M214.6 701.7 Q216.9 698.6 220.7 697.5 M216.3 714.5 Q214.5 713.7 213.7 711.9 M220.7 697.5 Q221.0 697.6 221.4 697.7 M223.0 648.4 Q224.1 655.6 230.6 659.1 M240.5 654.8 Q240.3 655.7 240.0 656.6 M230.6 659.1 Q235.3 657.8 240.0 656.6 M230.3 708.2 Q232.6 707.1 234.8 705.8 M221.4 697.7 Q225.4 693.3 231.4 692.7 M231.4 692.7 Q234.8 694.2 237.3 696.9 M234.8 705.8 Q234.4 700.9 237.3 696.9 M213.9 727.7 Q213.7 726.6 212.8 726.1 M213.9 727.7 Q218.2 730.5 223.3 730.2 M230.6 720.4 Q227.4 723.6 227.1 728.1 M230.6 720.4 Q230.5 717.4 228.1 715.5 M212.8 726.1 Q214.3 720.2 216.3 714.5 M223.3 730.2 Q225.7 730.0 227.1 728.1 M223.3 730.2 Q220.8 736.1 221.1 742.5 M221.1 742.5 Q225.5 744.6 230.2 746.3 M246.5 731.5 Q241.3 734.6 236.7 738.4 M246.5 731.5 Q247.3 731.4 248.1 731.5 M248.1 731.5 Q248.0 740.3 253.4 747.2 M235.8 742.0 Q236.3 740.2 236.7 738.4 M235.8 742.0 Q241.2 746.2 246.8 750.1 M246.8 750.1 Q249.7 748.7 253.1 748.5 M253.1 748.5 Q253.3 747.8 253.4 747.2 M230.6 720.4 Q233.4 719.7 235.9 721.1 M227.1 728.1 Q234.0 731.3 236.7 738.4 M230.2 746.3 Q232.4 743.4 235.8 742.0 M254.4 750.0 Q253.7 749.2 253.1 748.5 M202.9 724.0 Q208.1 723.6 212.8 726.1 M222.1 648.2 Q217.5 652.9 213.0 657.6 M213.5 638.1 Q210.1 646.1 201.7 648.4 M213.0 657.6 Q207.5 652.7 201.7 648.4 M230.6 659.1 Q227.7 663.1 226.7 668.0 M213.0 657.6 Q212.9 657.7 212.9 657.7 M212.9 657.7 Q220.6 661.8 226.7 668.0 M261.4 622.7 Q257.5 626.6 252.8 629.5 M252.8 629.5 Q254.9 633.5 256.2 637.8 M273.0 635.4 Q266.0 635.2 261.0 640.1 M273.0 635.4 Q273.1 633.1 274.1 631.1 M256.2 637.8 Q259.0 638.1 261.0 640.1 M274.1 631.1 Q274.0 630.8 273.9 630.6 M263.2 611.4 Q267.0 611.0 270.8 610.9 M270.8 610.9 Q272.6 615.0 276.8 616.7 M276.8 616.7 Q277.5 624.1 273.9 630.6 M244.5 626.7 Q248.0 630.1 252.8 629.5 M248.3 644.2 Q251.1 639.6 256.2 637.8 M256.2 654.3 Q252.4 651.6 248.3 649.4 M256.2 654.3 Q259.2 654.4 261.7 652.6 M261.7 652.6 Q264.1 646.2 261.0 640.1 M293.7 562.7 Q292.0 572.0 290.0 581.3 M308.0 572.0 Q304.5 575.6 302.9 580.4 M290.0 581.3 Q296.5 581.5 302.9 580.4 M326.1 582.9 Q322.0 586.0 318.0 589.2 M302.9 580.4 Q307.3 583.5 309.3 588.5 M318.0 589.2 Q313.5 590.6 309.3 588.5 M409.1 469.2 Q409.0 468.9 408.7 468.8 M408.2 454.9 Q409.8 452.7 412.5 451.9 M351.9 396.6 Q351.0 397.1 350.6 398.0 M351.9 396.6 Q359.0 394.8 364.6 399.4 M350.6 398.0 Q352.5 403.5 351.1 409.1 M364.6 399.4 Q364.8 400.0 365.2 400.5 M365.2 400.5 Q364.5 407.1 361.6 413.1 M438.6 411.5 Q435.6 402.3 432.7 393.2 M435.7 385.3 Q435.0 389.5 432.7 393.2 M421.3 400.0 Q417.9 396.9 413.8 394.6 M421.3 400.0 Q427.8 397.9 432.7 393.2 M381.2 337.6 Q380.3 342.0 382.4 345.9 M376.7 402.6 Q379.8 399.5 382.7 396.3 M376.7 402.6 Q377.2 407.6 377.8 412.5 M361.6 413.1 Q361.6 414.3 362.5 415.0 M377.8 412.5 Q370.4 415.5 362.5 415.0 M334.3 553.0 Q334.8 550.9 336.6 549.7 M328.7 535.0 Q329.3 534.9 330.0 535.1 M336.6 549.7 Q330.2 543.8 330.0 535.1 M330.0 535.1 Q332.2 531.5 336.3 530.7 M403.2 483.5 Q396.2 484.6 390.9 479.8 M392.4 498.1 Q391.4 496.1 389.7 494.8 M389.7 494.8 Q388.4 487.2 390.9 479.8 M383.5 510.8 Q382.7 510.8 381.9 511.3 M381.9 511.3 Q381.0 516.8 380.1 522.3 M380.1 522.3 Q376.7 525.3 372.2 525.5 M359.3 496.0 Q355.4 502.2 357.8 509.1 M359.3 496.0 Q365.5 492.5 372.5 494.1 M372.5 494.1 Q374.3 500.8 374.6 507.7 M374.6 507.7 Q368.9 509.5 364.3 513.4 M357.8 509.1 Q360.0 512.8 364.3 513.4 M352.2 490.4 Q352.2 490.4 352.2 490.4 M352.2 490.4 Q355.6 493.4 359.3 496.0 M345.4 511.7 Q350.9 507.4 357.8 509.1 M342.6 510.7 Q342.6 507.5 340.3 505.3 M340.3 505.3 Q344.8 496.6 352.2 490.4 M364.6 479.3 Q362.6 479.6 360.6 479.1 M364.6 479.3 Q371.0 483.3 373.5 490.5 M360.6 479.1 Q353.7 482.7 352.2 490.4 M373.5 490.5 Q373.8 491.6 373.5 492.6 M373.5 492.6 Q373.0 493.3 372.5 494.1 M373.5 492.6 Q381.3 496.2 389.7 494.8 M381.9 511.3 Q377.6 510.8 374.6 507.7 M372.2 525.5 Q367.1 524.4 364.5 519.8 M320.9 504.0 Q321.4 497.3 324.3 491.2 M320.9 504.0 Q329.6 504.8 338.2 503.9 M338.2 503.9 Q332.8 497.7 333.6 489.5 M324.3 491.2 Q328.9 489.9 333.6 489.5 M342.6 510.7 Q339.2 514.1 336.1 517.7 M340.3 505.3 Q339.0 505.0 338.2 503.9 M346.2 473.7 Q345.2 474.2 344.8 475.3 M346.2 473.7 Q351.5 472.7 356.8 473.5 M356.8 473.5 Q359.8 475.6 360.6 479.1 M344.8 475.3 Q343.1 479.4 343.5 483.9 M333.6 489.5 Q334.6 487.7 335.8 486.0 M343.5 483.9 Q339.7 485.2 335.8 486.0 M321.4 433.8 Q321.3 430.8 320.7 427.8 M320.7 427.8 Q324.1 427.0 326.8 424.8 M332.6 437.5 Q333.7 433.5 336.2 430.3 M326.8 424.8 Q330.4 429.4 336.2 430.3 M279.7 421.5 Q283.8 417.1 285.3 411.2 M279.7 421.5 Q278.4 421.5 277.5 422.4 M268.4 413.9 Q270.2 417.4 272.5 420.5 M268.4 413.9 Q270.0 408.0 275.2 404.8 M277.5 422.4 Q274.9 421.7 272.5 420.5 M285.3 411.2 Q278.9 410.1 275.2 404.8 M264.8 414.0 Q266.6 414.1 268.4 413.9 M275.2 404.8 Q275.6 402.0 274.5 399.3 M277.4 394.9 Q274.9 396.4 274.5 399.3 M310.7 458.6 Q310.3 455.2 310.3 451.8 M320.6 450.0 Q322.3 454.8 322.2 460.0 M318.8 462.0 Q320.7 461.4 322.2 460.0 M312.8 505.4 Q309.7 500.9 306.5 496.6 M317.0 483.9 Q315.8 483.7 314.6 483.5 M317.0 483.9 Q320.7 487.6 324.3 491.2 M314.6 483.5 Q307.8 488.4 306.5 496.6 M293.7 501.2 Q286.2 500.0 282.1 493.5 M291.5 485.0 Q285.3 487.6 282.1 493.5 M291.5 485.0 Q293.6 484.9 295.6 484.6 M295.6 484.6 Q300.4 489.5 303.1 495.9 M293.7 501.2 Q293.7 507.8 292.5 514.3 M303.1 495.9 Q304.8 496.3 306.5 496.6 M277.5 422.4 Q280.7 428.4 278.0 434.6 M288.8 425.5 Q290.0 428.0 289.1 430.6 M260.3 552.1 Q264.6 549.7 269.0 547.4 M260.3 552.1 Q256.3 545.9 251.4 540.3 M256.0 532.1 Q254.2 536.4 251.4 540.3 M248.2 443.1 Q245.6 439.2 241.8 436.4 M248.2 443.1 Q249.7 444.0 251.4 444.0 M251.4 444.0 Q253.5 444.1 255.1 442.7 M272.5 420.5 Q270.5 425.7 266.2 429.2 M259.7 428.8 Q263.0 429.0 266.2 429.2 M195.5 500.5 Q197.8 504.2 201.5 506.3 M194.1 522.0 Q196.5 516.5 202.0 514.0 M237.1 551.4 Q241.7 547.4 244.6 541.9 M260.3 552.1 Q259.6 553.7 259.6 555.6 M251.4 540.3 Q247.9 540.7 244.6 541.9 M259.6 555.6 Q252.6 563.2 242.2 562.7 M220.2 554.6 Q224.7 550.1 231.2 550.0 M231.2 550.0 Q234.1 550.8 237.1 551.4 M240.5 568.3 Q240.8 567.6 241.4 567.2 M242.2 562.7 Q242.1 565.0 241.4 567.2 M117.4 617.8 Q116.8 619.3 115.8 620.7 M165.5 562.9 Q169.5 569.8 175.9 574.5 M165.5 562.9 Q157.0 560.1 148.1 558.7 M148.1 558.7 Q145.5 563.7 143.6 569.2 M168.4 578.5 Q172.5 577.2 175.9 574.5 M168.4 578.5 Q156.6 576.2 145.4 571.8 M145.4 571.8 Q144.7 570.4 143.6 569.2 M163.1 545.9 Q161.7 554.8 165.5 562.9 M187.4 564.1 Q184.4 569.5 180.9 574.5 M180.9 574.5 Q178.4 574.3 175.9 574.5 M286.5 629.1 Q291.2 624.3 290.8 617.6 M286.5 629.1 Q292.3 631.9 295.2 637.6 M295.2 637.6 Q296.7 634.6 300.0 633.8 M300.0 633.8 Q303.1 629.2 302.2 623.7 M290.8 617.6 Q296.6 620.5 302.2 623.7 M289.5 614.3 Q291.0 615.6 290.8 617.6 M274.1 631.1 Q280.3 630.1 286.5 629.1 M213.3 685.2 Q212.8 681.1 210.2 677.9 M217.4 686.9 Q219.7 683.4 223.8 682.2 M210.2 677.9 Q212.4 675.8 213.1 673.0 M213.1 673.0 Q218.9 674.3 224.4 672.0 M223.8 682.2 Q224.0 677.1 224.4 672.0 M220.7 697.5 Q219.6 692.1 217.4 686.9 M231.4 692.7 Q231.2 689.0 232.2 685.4 M232.2 685.4 Q228.4 682.7 223.8 682.2 M201.2 676.7 Q205.7 677.4 210.2 677.9 M201.2 676.7 Q199.7 671.7 198.2 666.6 M198.2 666.6 Q203.4 663.5 209.4 663.3 M209.4 663.3 Q212.5 667.6 213.1 673.0 M212.9 657.7 Q210.4 660.0 209.4 663.3 M226.7 668.0 Q226.8 668.5 226.9 669.0 M226.9 669.0 Q225.7 670.6 224.4 672.0 M245.3 708.8 Q239.7 708.5 234.8 705.8 M245.3 708.8 Q247.0 703.4 248.0 697.8 M237.3 696.9 Q240.9 695.3 244.7 694.1 M248.0 697.8 Q245.6 696.7 244.7 694.1 M245.3 708.8 Q245.6 711.0 247.4 712.2 M256.0 698.3 Q252.0 697.6 248.0 697.8 M256.0 698.3 Q258.2 703.4 258.9 709.0 M258.9 709.0 Q253.4 711.4 247.4 712.2 M235.9 721.1 Q240.8 715.9 247.2 712.9 M247.4 712.2 Q247.3 712.5 247.2 712.9 M248.1 731.5 Q250.3 728.6 253.8 727.2 M247.2 712.9 Q247.5 721.4 253.8 727.2 M258.3 726.9 Q259.5 725.9 260.7 725.1 M253.8 727.2 Q256.1 728.0 258.3 726.9 M258.9 709.0 Q260.1 709.1 261.0 710.0 M261.0 710.0 Q258.6 717.5 260.7 725.1 M202.9 724.0 Q200.5 720.6 199.1 716.7 M213.7 711.9 Q207.3 710.9 201.4 713.7 M199.1 716.7 Q200.6 715.5 201.4 713.7 M214.6 701.7 Q210.0 700.7 205.7 698.8 M213.3 685.2 Q209.9 687.5 206.4 689.6 M206.4 689.6 Q205.0 694.1 205.7 698.8 M201.4 713.7 Q202.2 707.4 200.3 701.4 M205.7 698.8 Q203.2 700.5 200.3 701.4 M160.4 700.6 Q154.0 698.8 147.4 698.1 M160.4 700.6 Q161.8 702.8 162.9 705.1 M162.9 705.1 Q162.5 706.2 162.8 707.3 M136.0 664.9 Q135.3 664.6 134.7 664.9 M139.3 683.3 Q132.1 682.0 127.3 676.6 M139.3 683.3 Q140.4 683.3 141.4 682.8 M141.4 682.8 Q144.0 676.9 142.7 670.6 M134.7 664.9 Q129.3 669.6 127.3 676.6 M116.0 637.9 Q116.3 634.8 118.7 632.8 M116.0 637.9 Q113.3 638.2 111.2 639.8 M127.9 599.3 Q133.4 594.6 133.2 587.4 M145.4 571.8 Q142.8 579.6 142.3 587.7 M142.3 587.7 Q137.7 589.0 133.2 587.4 M182.6 618.5 Q186.4 620.8 189.2 624.4 M202.3 615.6 Q195.3 617.6 192.6 624.4 M204.0 596.0 Q198.9 591.9 192.4 592.5 M192.4 592.5 Q190.9 596.9 186.8 599.3 M208.7 595.3 Q206.3 595.5 204.0 596.0 M209.8 624.4 Q205.1 620.8 202.3 615.6 M207.9 631.1 Q204.2 633.2 200.1 632.4 M200.1 632.4 Q198.3 626.6 192.6 624.4 M180.9 574.5 Q191.0 580.8 192.4 592.5 M198.7 648.1 Q194.2 653.5 193.1 660.4 M198.7 648.1 Q196.3 646.5 195.2 643.9 M195.2 643.9 Q194.5 643.9 193.9 643.6 M193.9 643.6 Q187.8 646.4 181.5 648.6 M193.1 660.4 Q186.7 660.3 180.7 658.1 M181.5 648.6 Q180.8 651.8 179.3 654.8 M179.3 654.8 Q180.4 656.2 180.7 658.1 M198.2 666.6 Q197.1 665.5 195.6 665.2 M195.6 665.2 Q194.3 662.9 193.1 660.4 M201.7 648.4 Q200.2 648.5 198.7 648.1 M200.1 632.4 Q200.3 639.3 195.2 643.9 M185.4 634.2 Q187.1 629.2 189.2 624.4 M175.7 637.3 Q181.3 638.0 185.4 634.2 M175.7 637.3 Q177.6 643.5 181.5 648.6 M182.8 677.0 Q183.1 677.1 183.3 677.2 M182.8 677.0 Q179.8 671.8 176.5 666.9 M183.3 677.2 Q187.8 669.5 195.6 665.2 M176.5 666.9 Q179.7 663.0 180.7 658.1 M147.9 687.3 Q155.3 689.5 163.0 689.9 M147.9 687.3 Q147.4 686.7 147.2 685.9 M147.2 685.9 Q153.7 681.5 157.8 674.8 M163.0 689.9 Q165.3 688.4 167.4 686.6 M163.1 676.2 Q160.3 676.0 157.8 674.8 M163.1 676.2 Q167.0 679.4 167.7 684.4 M167.7 684.4 Q167.4 685.5 167.4 686.6 M160.4 700.6 Q159.4 694.7 163.0 689.9 M141.4 682.8 Q144.1 684.8 147.2 685.9 M142.7 670.6 Q148.0 669.9 152.8 667.3 M176.0 694.9 Q174.9 696.9 175.1 699.2 M176.0 694.9 Q170.1 692.5 167.4 686.6 M175.1 699.2 Q168.7 701.4 162.9 705.1 M182.8 677.0 Q176.2 682.7 167.7 684.4 M176.5 666.9 Q173.3 668.7 169.8 667.5 M169.8 667.5 Q167.8 672.9 163.1 676.2 M285.9 603.6 Q281.2 602.3 276.3 602.5 M285.9 603.6 Q288.9 598.2 290.7 592.3 M288.2 586.1 Q289.8 589.1 290.7 592.3 M271.7 592.3 Q272.0 598.3 276.3 602.5 M270.8 610.9 Q273.7 606.8 276.3 602.5 M289.5 614.3 Q289.5 613.1 290.1 612.0 M290.1 612.0 Q288.6 607.5 285.9 603.6 M290.1 612.0 Q298.5 611.9 304.0 605.5 M304.0 605.5 Q304.6 600.8 301.4 597.2 M301.4 597.2 Q295.4 596.3 290.7 592.3 M289.2 582.0 Q288.1 583.9 288.2 586.1 M289.2 582.0 Q289.6 581.7 290.0 581.3 M301.4 597.2 Q304.3 591.9 309.3 588.5 M269.6 591.5 Q265.9 595.2 260.9 597.0 M269.6 591.5 Q270.5 592.2 271.7 592.3 M261.7 652.6 Q262.1 652.8 262.4 653.0 M273.0 635.4 Q273.6 636.2 273.9 637.1 M262.4 653.0 Q267.4 650.2 273.0 651.7 M273.9 637.1 Q274.1 644.4 273.0 651.7 M304.0 605.5 Q306.1 606.1 307.7 607.5 M318.0 589.2 Q318.7 595.0 317.5 600.7 M307.7 607.5 Q311.7 602.8 317.5 600.7 M302.2 623.7 Q307.0 621.4 311.7 618.7 M307.7 607.5 Q310.6 612.8 311.7 618.7 M438.2 411.9 Q438.5 411.8 438.6 411.5 M421.3 400.0 Q421.3 403.4 421.5 406.7 M438.2 411.9 Q434.3 411.3 431.0 413.4 M431.0 413.4 Q424.9 412.0 421.5 406.7 M425.2 432.6 Q424.5 433.9 424.8 435.4 M431.0 413.4 Q428.5 421.5 421.9 426.7 M425.2 432.6 Q422.5 430.3 421.9 426.7 M410.8 413.0 Q415.5 418.8 418.6 425.5 M410.8 413.0 Q416.5 410.5 421.5 406.7 M413.8 394.6 Q410.2 399.2 404.4 400.0 M410.8 413.0 Q409.0 412.9 407.4 412.0 M407.4 412.0 Q403.2 406.7 404.4 400.0 M382.7 396.3 Q387.2 399.4 391.4 402.8 M391.4 402.8 Q397.4 402.8 401.9 398.8 M418.6 425.5 Q412.1 428.3 405.6 431.0 M413.6 444.1 Q408.1 441.5 405.6 436.1 M405.6 436.1 Q406.4 433.5 405.6 431.0 M340.9 411.9 Q338.0 415.1 335.8 418.7 M340.9 411.9 Q343.2 412.1 345.4 412.8 M345.4 412.8 Q348.4 417.5 348.2 423.1 M335.8 418.7 Q337.8 423.4 339.6 428.2 M348.2 423.1 Q344.8 426.0 340.9 428.2 M339.6 428.2 Q340.2 428.3 340.9 428.2 M336.5 406.3 Q339.9 408.2 340.9 411.9 M329.0 418.2 Q332.5 417.4 335.8 418.7 M329.0 418.2 Q327.5 414.4 324.7 411.3 M327.2 407.4 Q325.9 409.3 324.7 411.3 M339.7 398.4 Q337.0 401.9 336.5 406.3 M351.1 409.1 Q347.7 410.2 345.4 412.8 M362.5 415.0 Q360.0 419.2 361.4 423.9 M361.4 423.9 Q359.5 424.9 357.5 425.4 M357.5 425.4 Q353.3 422.7 348.2 423.1 M329.0 418.2 Q327.7 421.4 326.8 424.8 M336.2 430.3 Q337.5 428.6 339.6 428.2 M391.7 469.7 Q391.3 467.0 389.8 464.6 M391.7 469.7 Q388.8 473.0 389.2 477.4 M389.8 464.6 Q384.4 464.7 379.6 462.1 M381.8 478.5 Q385.5 478.1 389.2 477.4 M381.8 478.5 Q378.2 473.5 372.6 470.9 M379.6 462.1 Q377.1 467.1 372.5 470.4 M372.6 470.9 Q372.5 470.7 372.5 470.4 M408.7 468.8 Q400.3 470.6 391.7 469.7 M408.2 454.9 Q407.4 454.3 406.3 454.5 M406.3 454.5 Q398.5 454.7 392.2 459.2 M392.2 459.2 Q391.7 462.2 389.8 464.6 M390.9 479.8 Q390.4 478.4 389.2 477.4 M364.6 479.3 Q368.8 475.3 372.6 470.9 M364.4 463.3 Q368.7 458.4 371.1 452.3 M364.4 463.3 Q367.1 468.5 372.5 470.4 M359.1 463.8 Q361.8 463.6 364.4 463.3 M349.7 567.8 Q350.0 562.2 352.0 557.0 M336.6 549.7 Q340.6 550.3 344.1 548.2 M344.0 532.4 Q348.1 536.1 348.3 541.7 M344.0 532.4 Q348.7 530.2 351.8 526.1 M360.1 534.7 Q358.4 538.2 355.9 541.3 M355.9 541.3 Q352.0 540.2 348.3 541.7 M351.8 526.1 Q354.4 526.1 356.9 527.0 M336.3 530.7 Q340.4 530.4 344.0 532.4 M344.1 548.2 Q346.8 545.4 348.3 541.7 M345.4 511.7 Q351.4 517.7 351.8 526.1 M371.3 536.3 Q365.5 536.9 360.1 534.7 M364.5 519.8 Q362.4 525.2 356.9 527.0 M362.4 551.2 Q359.1 546.4 355.9 541.3 M310.7 458.6 Q309.6 460.4 307.9 461.7 M307.9 461.7 Q307.0 466.2 309.5 470.1 M317.8 468.8 Q317.6 465.3 318.8 462.0 M317.8 468.8 Q315.8 471.4 312.6 472.5 M312.6 472.5 Q310.8 471.6 309.5 470.1 M314.6 483.5 Q313.7 482.4 312.9 481.3 M295.6 484.6 Q296.9 481.8 299.2 479.9 M312.9 481.3 Q306.1 480.5 299.2 479.9 M325.0 447.5 Q327.3 451.1 331.0 453.2 M322.2 460.0 Q324.2 461.1 326.5 460.9 M326.5 460.9 Q328.3 460.0 329.9 458.8 M329.9 458.8 Q331.2 456.2 331.0 453.2 M337.2 462.2 Q338.1 456.2 342.3 451.8 M337.2 462.2 Q334.3 459.0 329.9 458.8 M331.0 453.2 Q335.2 450.4 340.3 449.7 M342.3 451.8 Q340.9 451.2 340.3 449.7 M357.5 425.4 Q355.9 432.4 351.9 438.4 M340.9 428.2 Q342.5 434.4 347.8 437.9 M347.8 437.9 Q349.9 437.9 351.9 438.4 M333.2 439.9 Q336.3 442.2 339.3 444.5 M347.8 437.9 Q341.9 439.1 339.3 444.5 M369.1 435.4 Q364.3 441.9 356.5 444.2 M369.1 435.4 Q369.3 433.0 370.1 430.7 M370.1 430.7 Q364.3 429.2 361.4 423.9 M351.9 438.4 Q355.5 440.2 356.5 444.2 M369.1 435.4 Q370.7 443.4 375.4 450.1 M371.1 452.3 Q363.1 452.6 356.7 447.8 M375.4 450.1 Q375.2 450.6 374.8 451.0 M356.7 447.8 Q355.8 446.0 356.5 444.2 M339.3 444.5 Q338.9 447.3 340.3 449.7 M323.8 398.5 Q318.6 397.7 313.8 395.5 M323.8 398.5 Q327.2 392.2 333.6 389.2 M339.7 398.4 Q335.8 394.4 333.6 389.2 M327.2 407.4 Q326.5 402.5 323.8 398.5 M294.2 396.3 Q285.5 399.4 277.4 394.9 M320.7 427.8 Q320.1 427.3 319.5 426.9 M319.5 426.9 Q315.4 421.5 317.0 414.9 M324.7 411.3 Q321.2 411.9 317.9 413.2 M317.0 414.9 Q317.4 414.0 317.9 413.2 M313.8 395.5 Q312.2 400.0 308.0 402.2 M317.9 413.2 Q310.7 409.7 308.0 402.2 M324.2 471.5 Q326.1 470.0 328.2 468.7 M324.2 471.5 Q323.7 475.0 324.6 478.3 M324.6 478.3 Q327.8 480.1 331.4 479.6 M331.4 479.6 Q331.2 474.9 334.3 471.3 M328.2 468.7 Q330.7 470.6 333.9 470.4 M333.9 470.4 Q333.9 471.0 334.3 471.3 M317.8 468.8 Q321.3 469.5 324.2 471.5 M326.5 460.9 Q325.7 465.2 328.2 468.7 M317.0 483.9 Q321.1 481.6 324.6 478.3 M312.6 472.5 Q314.7 476.8 312.9 481.3 M335.8 486.0 Q333.7 482.7 331.4 479.6 M344.8 475.3 Q339.1 474.6 334.3 471.3 M337.6 463.2 Q335.2 466.5 333.9 470.4 M346.2 473.7 Q345.7 469.9 345.6 466.0 M337.6 463.2 Q342.1 463.2 345.6 466.0 M208.5 465.7 Q213.4 459.5 214.7 451.6 M210.2 468.6 Q214.5 471.8 219.8 471.7 M224.0 467.8 Q222.2 461.5 223.5 455.1 M223.5 455.1 Q218.4 455.2 214.7 451.6 M236.7 455.1 Q233.9 452.0 229.8 452.2 M236.7 455.1 Q243.2 449.8 248.2 443.1 M241.8 436.4 Q235.9 438.7 229.9 436.5 M229.8 452.2 Q227.8 444.3 229.9 436.5 M309.5 470.1 Q305.2 472.5 300.3 471.4 M299.2 479.9 Q298.6 477.1 298.5 474.2 M298.5 474.2 Q299.1 472.6 300.3 471.4 M307.9 461.7 Q303.2 460.0 298.5 461.7 M300.3 471.4 Q297.6 466.9 298.5 461.7 M306.3 448.0 Q300.8 448.0 297.1 452.0 M297.1 452.0 Q299.1 456.2 297.0 460.4 M306.8 444.5 Q302.1 438.7 295.3 435.6 M295.3 435.6 Q295.0 435.8 294.6 435.8 M294.6 435.8 Q294.4 438.2 292.5 439.8 M297.1 452.0 Q296.2 451.8 295.7 451.1 M292.5 439.8 Q294.4 445.3 295.7 451.1 M254.2 528.4 Q248.2 525.7 242.5 522.6 M244.6 541.9 Q242.1 534.3 235.2 530.3 M235.2 530.3 Q238.9 526.5 242.5 522.6 M264.9 564.0 Q261.9 569.2 257.7 573.5 M264.9 564.0 Q270.0 563.2 274.1 566.4 M267.0 582.9 Q262.2 582.8 259.1 579.2 M259.1 579.2 Q259.2 576.1 257.7 573.5 M259.6 555.6 Q263.3 559.1 264.9 564.0 M241.4 567.2 Q250.2 568.6 257.7 573.5 M282.4 558.0 Q279.2 563.1 274.1 566.4 M289.2 582.0 Q283.0 576.7 275.6 573.2 M250.1 586.8 Q254.4 582.8 259.1 579.2 M300.0 633.8 Q307.6 632.8 313.7 637.3 M311.7 618.7 Q312.8 619.4 314.0 619.8 M314.0 619.8 Q316.6 627.8 315.4 636.1 M313.7 637.3 Q314.4 636.5 315.4 636.1 M256.2 654.3 Q253.1 657.1 252.8 661.3 M240.0 656.6 Q241.8 659.8 243.7 662.8 M252.8 661.3 Q248.5 663.3 243.7 662.8 M278.3 692.1 Q276.7 696.7 277.1 701.6 M278.3 692.1 Q274.3 688.8 269.0 689.3 M264.5 693.1 Q267.4 691.9 269.0 689.3 M264.5 693.1 Q266.7 697.8 269.0 702.5 M277.1 701.6 Q273.0 701.1 269.0 702.5 M256.0 698.3 Q258.7 695.9 261.1 693.1 M261.0 710.0 Q263.3 709.3 265.7 708.8 M261.1 693.1 Q262.8 692.4 264.5 693.1 M265.7 708.8 Q267.1 705.5 269.0 702.5 M196.0 683.7 Q196.7 684.4 196.7 685.4 M196.0 683.7 Q190.5 683.2 185.7 680.5 M196.7 685.4 Q194.2 691.7 193.1 698.3 M185.7 680.5 Q185.9 687.1 182.3 692.6 M182.3 692.6 Q186.5 696.7 192.1 698.6 M192.1 698.6 Q192.5 698.2 193.1 698.3 M201.2 676.7 Q198.1 679.8 196.0 683.7 M206.4 689.6 Q202.5 685.3 196.7 685.4 M183.3 677.2 Q184.4 678.9 185.7 680.5 M200.3 701.4 Q196.6 700.1 193.1 698.3 M176.0 694.9 Q178.6 692.2 182.3 692.6 M186.6 707.0 Q189.8 711.6 190.4 717.1 M186.6 707.0 Q183.0 705.5 179.1 705.9 M190.4 717.1 Q186.9 719.5 184.6 723.1 M199.1 716.7 Q194.7 716.7 190.4 717.1 M192.1 698.6 Q187.2 701.4 186.6 707.0 M175.1 699.2 Q177.2 702.5 179.1 705.9 M129.8 661.5 Q125.0 665.5 119.0 664.3 M129.8 661.5 Q128.5 655.5 127.9 649.4 M119.0 664.3 Q119.1 659.4 116.8 655.0 M116.8 655.0 Q120.2 651.8 123.8 648.8 M123.8 648.8 Q125.8 649.6 127.9 649.4 M136.0 664.9 Q138.4 659.1 142.8 654.9 M133.5 646.2 Q130.7 647.9 127.9 649.4 M133.5 646.2 Q135.4 646.5 137.2 647.0 M137.2 647.0 Q141.7 649.7 142.8 654.9 M134.7 664.9 Q132.7 662.6 129.8 661.5 M107.8 652.6 Q107.4 651.3 106.5 650.2 M107.8 652.6 Q112.4 653.3 116.8 655.0 M116.0 637.9 Q117.7 645.0 123.8 648.8 M106.5 650.2 Q109.8 645.4 111.2 639.8 M131.3 633.9 Q125.2 630.6 118.7 632.8 M131.3 633.9 Q132.9 640.0 133.5 646.2 M122.3 680.8 Q124.6 679.4 125.5 676.9 M122.3 680.8 Q118.6 680.6 115.0 681.3 M125.5 676.9 Q119.7 673.0 117.9 666.1 M115.0 681.3 Q112.4 677.4 109.8 673.6 M117.9 666.1 Q114.7 668.0 111.1 668.5 M109.8 673.6 Q111.6 671.4 111.1 668.5 M127.3 676.6 Q126.4 677.0 125.5 676.9 M107.8 652.6 Q104.7 657.3 104.4 662.9 M104.4 662.9 Q108.8 664.4 111.1 668.5 M106.5 650.2 Q102.2 650.0 98.0 648.7 M117.4 617.8 Q122.9 617.4 127.7 614.7 M127.9 599.3 Q128.0 602.6 130.7 604.7 M166.3 606.6 Q166.7 606.1 166.8 605.5 M166.8 605.5 Q163.3 597.6 159.2 590.1 M150.2 611.3 Q147.5 607.1 146.4 602.3 M159.2 590.1 Q154.4 592.8 148.9 593.4 M170.4 622.3 Q176.3 619.7 182.6 618.5 M170.4 622.3 Q164.5 615.5 166.3 606.6 M168.4 578.5 Q162.6 583.3 159.2 590.1 M142.3 587.7 Q144.7 591.5 148.9 593.4 M130.7 604.7 Q138.2 601.0 146.4 602.3 M163.1 624.6 Q158.7 632.8 149.8 635.3 M163.1 624.6 Q165.9 625.9 168.7 624.6 M152.7 639.7 Q160.3 637.6 167.7 640.6 M152.7 639.7 Q151.4 638.0 150.0 636.5 M172.0 636.0 Q168.8 637.2 167.7 640.6 M170.4 622.3 Q169.6 623.5 168.7 624.6 M149.8 613.2 Q150.1 612.3 150.2 611.3 M149.8 613.2 Q155.4 620.1 163.1 624.6 M175.7 637.3 Q173.9 636.6 172.0 636.0 M166.9 651.8 Q169.4 646.3 167.7 640.6 M166.9 651.8 Q173.4 652.0 179.3 654.8 M162.7 659.1 Q162.2 656.3 163.9 654.0 M162.7 659.1 Q157.4 660.5 153.5 664.4 M163.9 654.0 Q159.8 649.3 153.6 648.5 M169.8 667.5 Q167.8 662.0 162.7 659.1 M166.9 651.8 Q165.1 652.5 163.9 654.0 M152.8 667.3 Q153.2 665.9 153.5 664.4 M152.7 639.7 Q151.4 644.3 153.6 648.5 M142.8 654.9 Q145.1 655.4 147.4 655.2 M137.2 647.0 Q144.5 642.9 150.0 636.5 M295.2 637.6 Q294.8 638.2 294.9 638.8 M311.9 644.1 Q312.7 640.7 313.7 637.3 M311.9 644.1 Q309.0 647.7 304.3 647.7 M294.9 638.8 Q300.5 642.3 304.3 647.7 M273.9 637.1 Q280.2 643.2 288.5 645.7 M294.9 638.8 Q293.0 643.5 288.5 645.7 M273.0 651.7 Q274.5 652.0 275.2 653.4 M288.5 645.7 Q289.0 647.3 288.1 648.8 M275.2 653.4 Q282.8 654.2 288.1 648.8 M317.5 600.7 Q323.6 602.5 327.8 607.2 M314.0 619.8 Q319.5 616.0 326.0 617.8 M338.2 590.9 Q339.1 596.3 336.0 600.7 M336.0 600.7 Q330.8 602.6 327.8 607.2 M392.2 459.2 Q392.0 453.7 388.5 449.5 M375.4 450.1 Q378.2 447.9 381.8 447.5 M381.8 447.5 Q385.5 447.4 388.5 449.5 M406.3 454.5 Q402.3 448.3 396.4 444.0 M405.6 436.1 Q401.1 439.4 396.6 442.6 M396.4 444.0 Q396.4 443.2 396.6 442.6 M382.6 417.3 Q386.8 417.7 390.4 415.6 M390.4 415.6 Q394.1 417.0 397.5 418.9 M378.0 428.4 Q382.6 429.7 384.7 434.0 M397.5 418.9 Q398.4 421.8 398.6 424.8 M398.6 424.8 Q394.8 429.9 390.0 434.0 M384.7 434.0 Q387.3 435.0 390.0 434.0 M377.8 412.5 Q380.3 414.8 382.6 417.3 M370.1 430.7 Q373.9 429.1 378.0 428.4 M407.4 412.0 Q401.2 413.6 397.5 418.9 M381.8 447.5 Q385.7 441.3 384.7 434.0 M405.6 431.0 Q402.7 427.3 398.6 424.8 M396.6 442.6 Q394.8 437.2 390.0 434.0 M273.9 502.9 Q273.7 502.5 273.9 502.1 M273.9 502.9 Q269.4 506.9 266.6 512.1 M266.6 512.1 Q262.8 511.4 259.0 512.4 M257.0 490.9 Q254.8 499.6 252.7 508.4 M259.0 512.4 Q256.2 509.9 252.7 508.4 M289.6 515.9 Q284.4 506.2 273.9 502.9 M282.1 493.5 Q281.3 493.3 280.6 493.7 M280.6 493.7 Q277.5 498.1 273.9 502.1 M271.0 520.7 Q271.0 515.3 266.6 512.1 M254.2 528.4 Q255.1 520.0 259.0 512.4 M247.0 509.1 Q249.7 507.4 252.7 508.4 M247.0 509.1 Q244.5 512.3 241.5 515.1 M241.5 515.1 Q240.3 519.1 242.5 522.6 M356.0 448.7 Q350.1 450.2 344.5 452.5 M356.0 448.7 Q356.5 455.4 357.2 462.1 M344.5 452.5 Q346.3 457.6 348.7 462.6 M342.3 451.8 Q343.3 452.6 344.5 452.5 M356.7 447.8 Q356.4 448.3 356.0 448.7 M345.6 466.0 Q347.9 464.9 348.7 462.6 M294.2 396.3 Q294.9 396.8 295.0 397.8 M285.3 411.2 Q287.0 411.4 288.6 411.0 M308.0 402.2 Q307.1 402.1 306.3 402.6 M295.0 397.8 Q299.7 402.6 306.3 402.6 M224.0 467.8 Q228.6 466.2 233.0 468.1 M236.7 455.1 Q238.2 457.3 238.5 460.0 M238.5 460.0 Q236.2 464.3 233.0 468.1 M214.7 451.6 Q213.5 449.0 211.8 446.6 M298.5 474.2 Q294.5 473.2 290.7 471.4 M290.7 471.4 Q291.8 467.3 289.7 463.6 M291.5 485.0 Q288.5 480.4 285.5 475.9 M290.7 471.4 Q287.3 472.8 285.5 475.9 M280.6 493.7 Q275.7 489.7 274.7 483.5 M274.7 483.5 Q278.8 480.2 280.0 475.0 M280.0 475.0 Q282.6 476.1 285.5 475.9 M267.3 453.5 Q262.1 448.6 257.4 443.3 M267.3 453.5 Q269.8 453.5 272.3 453.0 M257.4 443.3 Q264.7 441.8 271.5 438.9 M272.3 453.0 Q271.8 446.0 271.5 438.9 M289.1 430.6 Q292.3 432.7 294.6 435.8 M292.5 439.8 Q287.1 439.7 282.9 443.2 M282.9 443.2 Q279.6 440.0 277.0 436.3 M266.2 429.2 Q270.7 432.2 273.1 437.1 M277.0 436.3 Q274.9 436.0 273.1 437.1 M255.1 442.7 Q256.2 443.1 257.4 443.3 M244.7 694.1 Q243.8 690.2 245.4 686.5 M245.4 686.5 Q249.7 684.0 254.7 684.5 M232.2 685.4 Q235.8 682.5 240.0 680.8 M245.4 686.5 Q243.4 683.0 240.0 680.8 M226.9 669.0 Q234.4 669.2 240.0 674.1 M240.0 674.1 Q241.1 673.6 241.7 672.5 M278.3 692.1 Q280.2 689.5 283.5 689.4 M265.7 708.8 Q270.0 712.4 274.7 715.6 M131.4 617.4 Q135.1 623.3 135.1 630.2 M147.1 616.0 Q143.7 623.3 145.7 631.1 M135.1 630.2 Q140.6 628.2 145.7 631.1 M149.8 613.2 Q148.0 614.2 147.1 616.0 M127.7 614.7 Q129.6 616.0 131.4 617.4 M131.3 633.9 Q132.8 631.7 135.1 630.2 M149.8 635.3 Q148.3 632.7 145.7 631.1 M304.3 647.7 Q302.3 652.6 302.5 657.9 M288.1 648.8 Q289.2 652.4 291.4 655.5 M302.5 657.9 Q296.7 657.8 291.4 655.5 M294.2 419.4 Q299.8 422.8 303.8 427.9 M294.2 419.4 Q294.0 417.9 294.2 416.4 M294.2 416.4 Q298.2 414.2 302.5 412.5 M302.5 412.5 Q305.1 416.0 308.2 419.2 M303.8 427.9 Q304.9 428.1 305.8 427.7 M305.8 427.7 Q306.0 427.6 306.1 427.5 M288.8 425.5 Q292.4 423.2 294.2 419.4 M295.3 435.6 Q299.6 431.9 303.8 427.9 M288.6 411.0 Q291.4 413.7 294.2 416.4 M317.0 414.9 Q313.1 418.0 308.2 419.2 M319.5 426.9 Q312.9 428.7 306.1 427.5 M310.9 439.2 Q307.5 433.9 305.8 427.7 M217.9 513.8 Q221.1 516.8 225.6 516.5 M217.9 513.8 Q214.8 516.3 211.4 518.4 M225.6 516.5 Q226.7 523.4 226.8 530.4 M211.4 518.4 Q213.3 522.7 211.3 526.9 M211.3 526.9 Q216.3 530.4 221.9 532.9 M221.9 532.9 Q223.2 532.6 224.6 532.4 M224.6 532.4 Q225.5 531.2 226.8 530.4 M201.5 506.3 Q208.8 506.2 215.1 502.6 M202.0 514.0 Q207.1 515.4 211.4 518.4 M215.1 502.6 Q216.7 508.1 217.9 513.8 M235.2 530.3 Q231.0 528.8 226.8 530.4 M241.5 515.1 Q236.0 514.4 230.6 512.7 M230.6 512.7 Q227.7 514.1 225.6 516.5 M203.2 531.0 Q207.5 529.5 211.3 526.9 M231.2 550.0 Q224.9 542.3 224.6 532.4 M230.6 484.9 Q228.5 490.1 230.8 495.3 M230.6 484.9 Q224.4 483.4 221.0 477.9 M230.8 495.3 Q230.3 495.9 229.6 496.3 M229.6 496.3 Q223.4 495.0 217.7 497.8 M219.8 471.7 Q221.5 474.6 221.0 477.9 M238.9 477.5 Q236.8 472.2 233.0 468.1 M238.9 477.5 Q233.0 479.2 230.6 484.9 M206.0 487.6 Q208.4 488.3 210.8 488.9 M247.0 509.1 Q240.4 504.4 238.2 496.6 M238.2 496.6 Q234.2 497.6 230.8 495.3 M230.6 512.7 Q231.0 504.4 229.6 496.3 M215.1 502.6 Q215.7 499.8 217.7 497.8 M238.2 496.6 Q244.0 491.9 250.7 488.6 M238.9 477.5 Q241.7 477.3 244.4 477.6 M244.4 477.6 Q246.0 484.0 250.7 488.6 M274.7 483.5 Q269.9 480.2 264.2 481.7 M257.0 490.9 Q257.0 490.8 257.0 490.7 M257.0 490.7 Q260.1 485.7 264.2 481.7 M227.2 434.8 Q221.0 433.3 216.0 437.3 M229.9 436.5 Q228.6 435.6 227.2 434.8 M211.8 446.6 Q211.9 441.1 216.0 437.3 M236.4 418.4 Q232.5 421.8 227.5 423.1 M295.7 451.1 Q289.7 450.3 283.7 451.7 M289.7 463.6 Q287.5 463.6 285.7 462.3 M285.7 462.3 Q285.8 456.8 283.7 451.7 M272.3 453.0 Q272.7 453.1 273.0 453.3 M282.9 443.2 Q284.0 447.0 282.5 450.7 M273.0 453.3 Q278.4 454.3 282.5 450.7 M283.7 451.7 Q283.0 451.4 282.5 450.7 M254.2 673.1 Q256.5 671.0 257.1 667.9 M257.2 679.4 Q263.4 681.0 269.2 678.2 M266.2 666.4 Q266.7 666.8 267.4 667.1 M267.4 667.1 Q266.1 673.0 269.2 678.2 M269.2 678.2 Q269.2 678.2 269.2 678.2 M254.7 684.5 Q255.7 681.8 257.2 679.4 M241.7 672.5 Q248.0 672.7 254.2 673.1 M252.8 661.3 Q256.1 663.9 257.1 667.9 M262.4 653.0 Q264.4 659.7 266.2 666.4 M276.8 662.7 Q277.3 657.9 275.2 653.4 M276.8 662.7 Q272.9 666.8 267.4 667.1 M281.1 664.9 Q277.7 671.2 280.7 677.7 M286.7 663.2 Q291.7 665.8 293.6 671.1 M280.7 677.7 Q282.2 678.1 282.9 679.4 M282.9 679.4 Q287.5 678.5 291.8 676.7 M291.8 676.7 Q294.1 674.3 293.6 671.1 M276.8 662.7 Q279.1 663.4 281.1 664.9 M291.4 655.5 Q290.4 660.2 286.7 663.2 M269.2 678.2 Q275.1 680.1 280.7 677.7 M258.2 472.0 Q253.3 473.7 248.4 472.5 M258.2 472.0 Q257.5 466.5 261.2 462.4 M248.4 472.5 Q247.5 467.7 246.5 462.9 M246.5 462.9 Q250.2 460.9 252.9 457.7 M252.9 457.7 Q257.8 458.0 261.0 461.6 M261.0 461.6 Q261.2 462.0 261.2 462.4 M244.4 477.6 Q246.2 474.9 248.4 472.5 M264.2 481.7 Q264.4 479.8 263.5 478.1 M263.5 478.1 Q261.2 474.7 258.2 472.0 M238.5 460.0 Q242.0 462.8 246.5 462.9 M251.4 444.0 Q250.6 451.1 252.9 457.7 M267.3 453.5 Q265.4 458.5 261.0 461.6 M279.8 474.6 Q283.8 470.0 282.8 463.9 M279.8 474.6 Q276.9 470.0 271.6 468.8 M282.8 463.9 Q278.6 463.9 274.9 461.8 M274.9 461.8 Q272.2 463.7 271.2 466.8 M271.6 468.8 Q271.4 467.8 271.2 466.8 M280.0 475.0 Q279.9 474.8 279.8 474.6 M285.7 462.3 Q284.4 463.4 282.8 463.9 M263.5 478.1 Q267.7 473.6 271.6 468.8 M273.0 453.3 Q272.6 457.8 274.9 461.8" fill="none" stroke="#bdd8bf" stroke-width="0.75"/>
<path d="M230.3 418.5 C227.8 422.5 219.6 435.6 215.6 442.4 C211.5 449.2 208.3 454.7 205.9 459.5 C203.5 464.2 201.6 466.4 201.0 471.1 C200.3 475.9 202.0 482.5 202.0 488.0 C202.0 493.5 203.1 497.3 201.0 504.3 C198.8 511.3 192.6 520.9 188.9 529.8 C185.3 538.6 182.8 548.6 178.9 557.4 C175.0 566.3 169.3 575.7 165.4 582.9 C161.5 590.0 158.0 595.0 155.6 600.4 C153.2 605.8 151.4 610.2 151.0 615.1 C150.6 620.0 151.3 624.8 152.9 629.7 C154.6 634.6 159.6 642.1 160.9 644.5" fill="none" stroke="#b3d1b5" stroke-width="0.85" />
<path d="M228.5 417.5 C226.1 421.5 217.9 434.5 213.8 441.4 C209.8 448.2 206.6 453.6 204.1 458.5 C201.6 463.5 199.7 466.0 199.0 470.9 C198.3 475.8 200.0 482.5 200.0 488.0 C200.0 493.5 201.2 496.9 199.0 503.7 C196.9 510.5 190.7 520.2 187.1 529.0 C183.4 537.8 181.0 547.8 177.1 556.6 C173.2 565.4 167.5 574.8 163.6 581.9 C159.7 589.1 156.2 594.1 153.8 599.6 C151.4 605.1 149.5 609.8 149.0 614.9 C148.5 620.0 149.4 625.2 151.1 630.3 C152.7 635.4 157.8 642.9 159.1 645.5" fill="none" stroke="#b3d1b5" stroke-width="0.85" />
<path d="M265.4 628.2 C263.5 630.1 256.7 635.0 253.8 639.5 C250.9 644.0 249.1 648.8 248.0 655.2 C246.8 661.6 246.5 670.2 247.0 677.9 C247.5 685.7 249.1 695.2 251.0 701.7 C252.8 708.3 256.5 712.3 258.0 717.3 C259.5 722.3 259.7 729.4 260.0 731.9" fill="none" stroke="#b3d1b5" stroke-width="0.85" />
<path d="M264.0 626.8 C262.0 628.7 255.2 633.8 252.2 638.5 C249.2 643.1 247.2 648.2 246.0 654.8 C244.8 661.4 244.5 670.2 245.0 678.1 C245.5 686.0 247.2 695.6 249.0 702.3 C250.9 708.9 254.5 712.9 256.0 717.9 C257.5 722.9 257.7 729.8 258.0 732.1" fill="none" stroke="#b3d1b5" stroke-width="0.85" />
<path d="M245.6 628.9 C243.3 627.9 236.1 623.7 231.8 623.0 C227.6 622.2 223.3 622.6 220.1 624.4 C216.9 626.2 214.9 630.3 212.6 633.8 C210.4 637.4 209.2 641.1 206.8 645.5 C204.3 649.8 200.8 653.8 197.9 659.9 C195.0 666.1 192.8 675.9 189.5 682.4 C186.2 689.0 180.6 694.3 178.3 699.4 C176.0 704.5 174.6 707.5 175.5 712.8 C176.4 718.2 182.5 728.5 183.9 731.6" fill="none" stroke="#b3d1b5" stroke-width="0.85" />
<path d="M246.4 627.1 C244.0 626.1 236.7 621.8 232.2 621.0 C227.6 620.3 222.6 620.7 219.1 622.6 C215.6 624.6 213.3 629.1 211.0 632.8 C208.6 636.4 207.5 640.1 205.0 644.5 C202.6 648.9 199.0 652.9 196.1 659.1 C193.2 665.3 191.0 675.0 187.7 681.6 C184.4 688.1 178.9 693.3 176.5 698.6 C174.1 703.9 172.6 707.5 173.5 713.2 C174.4 718.8 180.7 729.2 182.1 732.4" fill="none" stroke="#b3d1b5" stroke-width="0.85" />
<path d="M264.7 627.5 C268.1 624.9 278.3 616.6 285.0 612.0 C291.7 607.4 298.3 603.7 305.0 600.0 C311.7 596.3 318.7 595.0 325.0 590.0 C331.3 585.0 338.8 577.0 343.0 570.0 C347.2 563.0 350.5 555.0 350.0 548.0 C349.5 541.0 342.0 535.2 340.0 528.0 C338.0 520.8 336.0 512.7 338.0 505.0 C340.0 497.3 346.3 489.2 352.0 482.0 C357.7 474.8 365.3 469.0 372.0 462.0 C378.7 455.0 386.0 447.3 392.0 440.0 C398.0 432.7 405.3 421.7 408.0 418.0" fill="none" stroke="#bdd8bf" stroke-width="0.80" />
<path d="M222.0 418.0 C219.7 421.7 212.3 432.7 208.0 440.0 C203.7 447.3 199.8 454.5 196.0 462.0 C192.2 469.5 188.3 477.8 185.0 485.0 C181.7 492.2 177.8 499.2 176.0 505.0 C174.2 510.8 174.0 512.3 174.0 520.0 C174.0 527.7 177.0 541.9 176.0 551.0 C175.0 560.1 170.7 568.0 168.0 574.5 C165.3 581.0 161.3 587.4 160.0 590.0" fill="none" stroke="#bdd8bf" stroke-width="0.80" stroke-dasharray="2.5 2"/>
<path d="M283.0 541.0 C281.8 542.2 278.0 544.8 276.0 548.0 C274.0 551.2 271.2 556.0 271.0 560.0 C270.8 564.0 274.3 570.0 275.0 572.0" fill="none" stroke="#bdd8bf" stroke-width="0.80" stroke-dasharray="2.5 2"/>
<path d="M318.0 612.0 C318.7 613.7 320.0 619.0 322.0 622.0 C324.0 625.0 329.3 627.0 330.0 630.0 C330.7 633.0 326.7 638.3 326.0 640.0" fill="none" stroke="#bdd8bf" stroke-width="0.80" stroke-dasharray="2.5 2"/>
<path d="M214.7 459.0 C216.7 456.4 219.8 451.7 222.1 449.2 C224.3 446.8 226.8 443.5 228.2 444.3 C229.6 445.1 230.4 449.2 230.6 454.1 C230.9 459.0 230.5 468.0 229.9 473.7 C229.3 479.4 228.5 484.6 227.0 488.4 C225.4 492.3 223.3 495.4 220.8 497.0 C218.4 498.6 214.7 498.8 212.3 498.2 C209.8 497.6 207.4 495.8 206.1 493.3 C204.8 490.9 204.4 486.8 204.4 483.5 C204.4 480.3 205.2 476.8 206.1 473.7 C207.0 470.7 208.4 467.6 209.8 465.1 C211.2 462.7 212.7 461.7 214.7 459.0Z" fill="#f4efe0" stroke="#bdd8bf" stroke-width="0.7"/>
<path d="M255.1 418.1 C252.1 419.0 253.7 422.0 252.7 423.5 C251.7 425.0 250.9 425.9 249.0 427.2 C247.2 428.4 243.7 429.2 241.7 430.8 C239.6 432.5 237.9 434.3 236.8 437.0 C235.6 439.6 234.9 443.1 234.8 446.8 C234.7 450.4 235.9 454.9 236.3 459.0 C236.7 463.1 237.0 467.2 237.3 471.3 C237.5 475.4 237.7 479.4 238.0 483.5 C238.3 487.6 238.6 492.3 239.2 495.8 C239.8 499.3 240.9 502.5 241.7 504.4 C242.4 506.2 243.1 507.4 243.6 506.8 C244.2 506.2 244.8 502.9 244.9 500.7 C244.9 498.4 244.0 495.7 244.1 493.3 C244.2 491.0 244.2 488.1 245.6 486.5 C247.0 484.8 249.7 484.1 252.7 483.5 C255.7 483.0 260.3 483.4 263.7 483.0 C267.2 482.7 271.5 482.3 273.5 481.6 C275.6 480.8 276.2 480.1 276.0 478.6 C275.8 477.1 273.1 474.3 272.3 472.5 C271.5 470.7 270.9 469.8 271.1 467.6 C271.3 465.4 272.5 462.1 273.5 459.0 C274.6 456.0 276.2 452.5 277.2 449.2 C278.2 445.9 279.0 442.3 279.7 439.4 C280.3 436.6 281.0 434.5 280.9 432.1 C280.8 429.6 280.1 426.5 278.9 424.7 C277.7 422.9 274.8 422.1 273.5 421.0 C272.2 419.9 274.1 418.6 271.1 418.1 C268.0 417.6 258.2 417.2 255.1 418.1Z" fill="#abd6fb"/>
<path d="M273.5 471.3 C274.3 470.2 278.0 469.7 280.9 470.0 C283.7 470.4 287.8 472.5 290.7 473.2 C293.5 473.9 296.3 475.0 298.0 474.2 C299.8 473.5 299.6 469.7 301.0 468.8 C302.4 467.9 305.5 467.6 306.6 468.8 C307.8 470.0 308.0 473.9 307.8 476.2 C307.6 478.4 306.6 480.3 305.4 482.3 C304.2 484.3 301.7 486.4 300.5 488.4 C299.3 490.5 297.6 493.3 298.0 494.6 C298.4 495.8 301.1 496.4 302.9 495.8 C304.8 495.2 307.0 492.4 309.1 490.9 C311.1 489.3 312.9 487.7 315.2 486.5 C317.4 485.2 320.5 484.0 322.5 483.5 C324.6 483.0 326.4 481.9 327.5 483.5 C328.5 485.2 329.3 491.1 328.7 493.3 C328.1 495.6 326.0 495.9 323.8 497.0 C321.5 498.2 318.3 499.0 315.2 500.2 C312.1 501.4 308.5 503.3 305.4 504.4 C302.3 505.5 299.3 506.7 296.8 506.8 C294.4 506.9 292.1 506.5 290.7 505.1 C289.3 503.7 288.8 501.0 288.2 498.2 C287.6 495.5 287.8 491.3 287.0 488.4 C286.2 485.6 285.2 483.0 283.3 481.1 C281.5 479.1 277.6 478.3 276.0 476.7 C274.3 475.0 272.7 472.4 273.5 471.3Z" fill="#abd6fb"/>
<circle cx="262.3" cy="467.6" r="1.8" fill="#ebebee"/>
<ellipse cx="363.7" cy="512.9" rx="9" ry="14.5" fill="#abd6fb" transform="rotate(22 363.7 512.9)"/>
<polygon points="287.0,506.1 296.8,506.1 296.1,524.7 284.6,524.7" fill="#f1ece0" />
<line x1="337.3" y1="475.7" x2="359.3" y2="474.2" stroke="#ffffff" stroke-width="1.20" />
<line x1="337.3" y1="479.1" x2="354.4" y2="478.6" stroke="#ffffff" stroke-width="1.20" />
<line x1="337.3" y1="475.7" x2="337.3" y2="479.1" stroke="#ffffff" stroke-width="1.20" />
<line x1="359.3" y1="474.2" x2="353.9" y2="484.8" stroke="#ffffff" stroke-width="1.20" />
<line x1="354.4" y1="478.6" x2="353.9" y2="484.8" stroke="#ffffff" stroke-width="1.20" />
<line x1="271.8" y1="536.9" x2="266.2" y2="559.5" stroke="#bdd8bf" stroke-width="0.70" />
<line x1="275.7" y1="536.9" x2="270.1" y2="559.5" stroke="#bdd8bf" stroke-width="0.70" />
<line x1="279.7" y1="536.9" x2="274.0" y2="559.5" stroke="#bdd8bf" stroke-width="0.70" />
<line x1="283.6" y1="536.9" x2="278.0" y2="559.5" stroke="#bdd8bf" stroke-width="0.70" />
<line x1="287.6" y1="536.9" x2="281.9" y2="559.5" stroke="#bdd8bf" stroke-width="0.70" />
<line x1="270.4" y1="539.7" x2="291.5" y2="544.0" stroke="#bdd8bf" stroke-width="0.70" />
<line x1="270.4" y1="544.0" x2="291.5" y2="548.2" stroke="#bdd8bf" stroke-width="0.70" />
<line x1="270.4" y1="548.2" x2="291.5" y2="552.4" stroke="#bdd8bf" stroke-width="0.70" />
<line x1="270.4" y1="552.4" x2="291.5" y2="556.6" stroke="#bdd8bf" stroke-width="0.70" />
<line x1="270.4" y1="556.6" x2="291.5" y2="560.9" stroke="#bdd8bf" stroke-width="0.70" />
<path d="M227.3 686.7 C227.9 686.3 230.7 689.2 232.2 690.0 C233.6 690.8 235.5 690.2 236.1 691.4 C236.6 692.5 235.3 695.3 235.5 696.9 C235.7 698.4 236.9 698.8 237.5 700.8 C238.0 702.7 238.9 705.7 239.0 708.6 C239.1 711.6 238.4 715.5 238.0 718.4 C237.6 721.4 237.0 723.7 236.7 726.3 C236.3 728.9 242.2 732.8 236.1 734.1 C229.9 735.4 206.1 736.9 199.8 734.1 C193.5 731.3 197.7 719.9 198.2 717.5 C198.7 715.0 201.2 719.2 202.7 719.4 C204.3 719.6 206.2 717.6 207.6 718.4 C209.1 719.2 209.9 723.0 211.6 724.3 C213.2 725.6 215.5 726.4 217.5 726.3 C219.4 726.1 221.9 724.6 223.3 723.3 C224.8 722.0 225.6 720.9 226.3 718.4 C226.9 716.0 226.7 711.2 227.3 708.6 C227.8 706.0 229.1 704.7 229.6 702.7 C230.1 700.8 230.4 698.7 230.2 696.9 C230.0 695.1 228.7 693.7 228.2 692.0 C227.7 690.3 226.6 687.0 227.3 686.7Z" fill="#abd6fb"/>
<path d="M259.1 666.5 C261.7 663.5 266.6 663.0 270.4 662.3 C274.1 661.6 278.8 661.1 281.7 662.3 C284.5 663.5 286.8 667.0 287.3 669.3 C287.8 671.7 286.8 674.5 284.5 676.4 C282.1 678.2 276.5 678.7 273.2 680.6 C269.9 682.5 267.3 686.5 264.7 687.6 C262.2 688.8 259.3 688.8 257.7 687.6 C256.1 686.5 254.6 684.1 254.9 680.6 C255.1 677.1 256.5 669.6 259.1 666.5Z" fill="none" stroke="#efe3c8" stroke-width="1.6"/>
<circle cx="273.8" cy="675.5" r="1.8" fill="#abd6fb"/>
<circle cx="262.5" cy="670.7" r="1.5" fill="#abd6fb"/>
<path d="M140.5 562.1 C145.8 565.9 164.4 579.2 172.0 585.0 C179.6 590.8 181.3 593.3 186.0 597.0 C190.7 600.7 194.1 601.9 200.0 607.0 C205.9 612.1 213.4 621.3 221.6 627.5 C229.8 633.7 241.8 640.4 249.0 644.1 C256.2 647.9 259.1 648.8 264.7 650.0 C270.3 651.2 274.7 650.5 282.4 651.6 C290.1 652.7 306.2 655.8 311.0 656.6" fill="none" stroke="#fff" stroke-width="4.2" stroke-linejoin="round"/>
<path d="M264.7 650 L286.3 660.8 L301.9,672.9" fill="none" stroke="#fff" stroke-width="3.6" stroke-linejoin="round"/>
<path d="M392.5 415.6 C394.3 416.6 400.7 418.7 403.7 421.3 C406.8 423.9 408.0 428.1 410.8 431.1 C413.6 434.2 417.6 437.5 420.7 439.6 C423.7 441.7 427.5 443.2 428.8 444.0" fill="none" stroke="#fff" stroke-width="5.4" stroke-linejoin="round"/>
<polygon points="773.0,572.6 766.3,579.9 759.5,588.8 748.7,603.6 719.0,641.3 705.6,660.2 689.4,687.2 673.2,714.1 661.1,733.0 775.7,733.0 775.7,572.6" fill="#abd6fb" />
<polygon points="775.7,664.2 771.6,666.9 759.5,687.2 748.7,706.0 739.3,719.5 735.2,733.0 775.7,733.0" fill="#ececee" />
<path d="M746.0,712.8 L759.5,708.7 L773.0,714.1" fill="none" stroke="#b9d9b6" stroke-width="0.9"/>
<path d="M773.5 572.6 C772.2 573.8 768.0 577.0 765.4 579.9 C762.9 582.7 761.0 585.7 758.2 589.6 C755.4 593.4 753.0 597.0 748.7 603.0 C744.5 609.1 737.5 619.2 732.6 625.7 C727.6 632.2 723.6 636.0 719.1 641.9 C714.6 647.7 710.5 653.1 705.6 660.7 C700.6 668.4 694.8 678.7 689.4 687.7 C684.0 696.7 678.3 706.7 673.2 714.7 C668.2 722.7 661.6 732.2 659.2 735.7" fill="none" stroke="#f4d27c" stroke-width="8.8" transform="translate(-1.2 0.3)"/>
<path d="M773.5 572.6 C772.2 573.8 768.0 577.0 765.4 579.9 C762.9 582.7 761.0 585.7 758.2 589.6 C755.4 593.4 753.0 597.0 748.7 603.0 C744.5 609.1 737.5 619.2 732.6 625.7 C727.6 632.2 723.6 636.0 719.1 641.9 C714.6 647.7 710.5 653.1 705.6 660.7 C700.6 668.4 694.8 678.7 689.4 687.7 C684.0 696.7 678.3 706.7 673.2 714.7 C668.2 722.7 661.6 732.2 659.2 735.7" fill="none" stroke="#fbe3a0" stroke-width="7.2" transform="translate(-1.2 0.3)"/></g>
<text x="107.5" y="419.5" font-family="Liberation Sans" font-size="9.4" fill="#505050" font-weight="normal" text-anchor="middle" stroke="#fff" stroke-width="2" paint-order="stroke" stroke-linejoin="round" transform="rotate(29.0 107.5 419.5)" dominant-baseline="central">W 72nd St</text>
<text x="101.0" y="434.0" font-family="Liberation Sans" font-size="7.3" fill="#757575" font-weight="normal" text-anchor="middle" stroke="#fff" stroke-width="2" paint-order="stroke" stroke-linejoin="round" transform="rotate(29.0 101.0 434.0)" dominant-baseline="central">W 71st St</text>
<text x="100.0" y="453.0" font-family="Liberation Sans" font-size="7.3" fill="#757575" font-weight="normal" text-anchor="middle" stroke="#fff" stroke-width="2" paint-order="stroke" stroke-linejoin="round" transform="rotate(29.0 100.0 453.0)" dominant-baseline="central">W 70th St</text>
<text x="128.0" y="490.0" font-family="Liberation Sans" font-size="7.3" fill="#757575" font-weight="normal" text-anchor="middle" stroke="#fff" stroke-width="2" paint-order="stroke" stroke-linejoin="round" transform="rotate(29.0 128.0 490.0)" dominant-baseline="central">W 69th St</text>
<text x="121.5" y="466.0" font-family="Liberation Sans" font-size="9.0" fill="#5c5c5c" font-weight="normal" text-anchor="middle" stroke="#fff" stroke-width="2" paint-order="stroke" stroke-linejoin="round" transform="rotate(-61.0 121.5 466.0)" dominant-baseline="central">Columbus Ave</text>
<text x="97.0" y="558.0" font-family="Liberation Sans" font-size="9.4" fill="#505050" font-weight="normal" text-anchor="middle" stroke="#fff" stroke-width="2" paint-order="stroke" stroke-linejoin="round" transform="rotate(29.0 97.0 558.0)" dominant-baseline="central">W 65th St</text>
<text x="96.0" y="578.0" font-family="Liberation Sans" font-size="7.3" fill="#757575" font-weight="normal" text-anchor="middle" stroke="#fff" stroke-width="2" paint-order="stroke" stroke-linejoin="round" transform="rotate(29.0 96.0 578.0)" dominant-baseline="central">W 64th St</text>
<text x="112.0" y="688.6" font-family="Liberation Sans" font-size="9.4" fill="#505050" font-weight="normal" text-anchor="middle" stroke="#fff" stroke-width="2" paint-order="stroke" stroke-linejoin="round" transform="rotate(29.0 112.0 688.6)" dominant-baseline="central">W 59th St</text>
<text x="428.0" y="442.0" font-family="Liberation Sans" font-size="9.0" fill="#5c5c5c" font-weight="normal" text-anchor="middle" stroke="#fff" stroke-width="2" paint-order="stroke" stroke-linejoin="round" transform="rotate(-61.0 428.0 442.0)" dominant-baseline="central">5th Ave</text>
<text x="350.0" y="593.0" font-family="Liberation Sans" font-size="9.0" fill="#5c5c5c" font-weight="normal" text-anchor="middle" stroke="#fff" stroke-width="2" paint-order="stroke" stroke-linejoin="round" transform="rotate(-61.0 350.0 593.0)" dominant-baseline="central">5th Ave</text>
<text x="463.0" y="460.0" font-family="Liberation Sans" font-size="9.0" fill="#5c5c5c" font-weight="normal" text-anchor="middle" stroke="#fff" stroke-width="2" paint-order="stroke" stroke-linejoin="round" transform="rotate(-61.0 463.0 460.0)" dominant-baseline="central">Madison Ave</text>
<text x="377.0" y="607.0" font-family="Liberation Sans" font-size="9.0" fill="#5c5c5c" font-weight="normal" text-anchor="middle" stroke="#fff" stroke-width="2" paint-order="stroke" stroke-linejoin="round" transform="rotate(-61.0 377.0 607.0)" dominant-baseline="central">Madison Ave</text>
<text x="308.0" y="724.0" font-family="Liberation Sans" font-size="9.0" fill="#5c5c5c" font-weight="normal" text-anchor="middle" stroke="#fff" stroke-width="2" paint-order="stroke" stroke-linejoin="round" transform="rotate(-61.0 308.0 724.0)" dominant-baseline="central">Madison Ave</text>
<text x="483.0" y="497.0" font-family="Liberation Sans" font-size="9.0" fill="#5c5c5c" font-weight="normal" text-anchor="middle" stroke="#fff" stroke-width="2" paint-order="stroke" stroke-linejoin="round" transform="rotate(-61.0 483.0 497.0)" dominant-baseline="central">Park Ave</text>
<text x="416.0" y="620.0" font-family="Liberation Sans" font-size="9.0" fill="#5c5c5c" font-weight="normal" text-anchor="middle" stroke="#fff" stroke-width="2" paint-order="stroke" stroke-linejoin="round" transform="rotate(-61.0 416.0 620.0)" dominant-baseline="central">Park Ave</text>
<text x="562.0" y="421.0" font-family="Liberation Sans" font-size="9.0" fill="#5c5c5c" font-weight="normal" text-anchor="middle" stroke="#fff" stroke-width="2" paint-order="stroke" stroke-linejoin="round" transform="rotate(-61.0 562.0 421.0)" dominant-baseline="central">Lexington Ave</text>
<text x="590.0" y="444.0" font-family="Liberation Sans" font-size="9.0" fill="#5c5c5c" font-weight="normal" text-anchor="middle" stroke="#fff" stroke-width="2" paint-order="stroke" stroke-linejoin="round" transform="rotate(-61.0 590.0 444.0)" dominant-baseline="central">3rd Ave</text>
<text x="512.0" y="584.0" font-family="Liberation Sans" font-size="9.0" fill="#5c5c5c" font-weight="normal" text-anchor="middle" stroke="#fff" stroke-width="2" paint-order="stroke" stroke-linejoin="round" transform="rotate(-61.0 512.0 584.0)" dominant-baseline="central">3rd Ave</text>
<text x="643.5" y="446.5" font-family="Liberation Sans" font-size="9.0" fill="#5c5c5c" font-weight="normal" text-anchor="middle" stroke="#fff" stroke-width="2" paint-order="stroke" stroke-linejoin="round" transform="rotate(-61.0 643.5 446.5)" dominant-baseline="central">2nd Ave</text>
<text x="580.0" y="563.0" font-family="Liberation Sans" font-size="9.0" fill="#5c5c5c" font-weight="normal" text-anchor="middle" stroke="#fff" stroke-width="2" paint-order="stroke" stroke-linejoin="round" transform="rotate(-61.0 580.0 563.0)" dominant-baseline="central">2nd Ave</text>
<text x="515.0" y="680.0" font-family="Liberation Sans" font-size="9.0" fill="#5c5c5c" font-weight="normal" text-anchor="middle" stroke="#fff" stroke-width="2" paint-order="stroke" stroke-linejoin="round" transform="rotate(-61.0 515.0 680.0)" dominant-baseline="central">2nd Ave</text>
<text x="677.0" y="494.5" font-family="Liberation Sans" font-size="9.0" fill="#5c5c5c" font-weight="normal" text-anchor="middle" stroke="#fff" stroke-width="2" paint-order="stroke" stroke-linejoin="round" transform="rotate(-61.0 677.0 494.5)" dominant-baseline="central">1st Avenue</text>
<text x="627.4" y="585.0" font-family="Liberation Sans" font-size="9.0" fill="#5c5c5c" font-weight="normal" text-anchor="middle" stroke="#fff" stroke-width="2" paint-order="stroke" stroke-linejoin="round" transform="rotate(-61.0 627.4 585.0)" dominant-baseline="central">1st Avenue</text>
<text x="564.0" y="709.0" font-family="Liberation Sans" font-size="9.0" fill="#5c5c5c" font-weight="normal" text-anchor="middle" stroke="#fff" stroke-width="2" paint-order="stroke" stroke-linejoin="round" transform="rotate(-61.0 564.0 709.0)" dominant-baseline="central">1st Avenue</text>
<text x="672.0" y="605.0" font-family="Liberation Sans" font-size="7.3" fill="#757575" font-weight="normal" text-anchor="middle" stroke="#fff" stroke-width="2" paint-order="stroke" stroke-linejoin="round" transform="rotate(-61.0 672.0 605.0)" dominant-baseline="central">York Ave</text>
<text x="743.0" y="585.0" font-family="Liberation Sans" font-size="7.3" fill="#757575" font-weight="normal" text-anchor="middle" stroke="#fff" stroke-width="2" paint-order="stroke" stroke-linejoin="round" transform="rotate(-61.0 743.0 585.0)" dominant-baseline="central">East End Ave</text>
<text x="728.5" y="628.0" font-family="Liberation Sans" font-size="10.0" fill="#6a5a2a" font-weight="normal" text-anchor="middle" transform="rotate(-55.0 728.5 628.0)" dominant-baseline="central">FDR Dr</text>
<text x="600.0" y="475.0" font-family="Liberation Sans" font-size="7.3" fill="#757575" font-weight="normal" text-anchor="middle" stroke="#fff" stroke-width="2" paint-order="stroke" stroke-linejoin="round" transform="rotate(29.0 600.0 475.0)" dominant-baseline="central">E 82nd St</text>
<text x="632.0" y="514.0" font-family="Liberation Sans" font-size="7.3" fill="#757575" font-weight="normal" text-anchor="middle" stroke="#fff" stroke-width="2" paint-order="stroke" stroke-linejoin="round" transform="rotate(29.0 632.0 514.0)" dominant-baseline="central">E 81st St</text>
<text x="697.0" y="507.0" font-family="Liberation Sans" font-size="7.3" fill="#757575" font-weight="normal" text-anchor="middle" stroke="#fff" stroke-width="2" paint-order="stroke" stroke-linejoin="round" transform="rotate(29.0 697.0 507.0)" dominant-baseline="central">E 83rd St</text>
<text x="627.0" y="531.0" font-family="Liberation Sans" font-size="7.3" fill="#757575" font-weight="normal" text-anchor="middle" stroke="#fff" stroke-width="2" paint-order="stroke" stroke-linejoin="round" transform="rotate(29.0 627.0 531.0)" dominant-baseline="central">E 80th St</text>
<text x="732.5" y="548.0" font-family="Liberation Sans" font-size="7.3" fill="#757575" font-weight="normal" text-anchor="middle" stroke="#fff" stroke-width="2" paint-order="stroke" stroke-linejoin="round" transform="rotate(29.0 732.5 548.0)" dominant-baseline="central">E 82nd St</text>
<text x="604.5" y="563.0" font-family="Liberation Sans" font-size="7.3" fill="#757575" font-weight="normal" text-anchor="middle" stroke="#fff" stroke-width="2" paint-order="stroke" stroke-linejoin="round" transform="rotate(29.0 604.5 563.0)" dominant-baseline="central">E 78th St</text>
<text x="596.0" y="580.0" font-family="Liberation Sans" font-size="7.3" fill="#757575" font-weight="normal" text-anchor="middle" stroke="#fff" stroke-width="2" paint-order="stroke" stroke-linejoin="round" transform="rotate(29.0 596.0 580.0)" dominant-baseline="central">E 77th St</text>
<text x="701.5" y="618.5" font-family="Liberation Sans" font-size="7.3" fill="#757575" font-weight="normal" text-anchor="middle" stroke="#fff" stroke-width="2" paint-order="stroke" stroke-linejoin="round" transform="rotate(29.0 701.5 618.5)" dominant-baseline="central">E 78th St</text>
<text x="579.0" y="612.5" font-family="Liberation Sans" font-size="7.3" fill="#757575" font-weight="normal" text-anchor="middle" stroke="#fff" stroke-width="2" paint-order="stroke" stroke-linejoin="round" transform="rotate(29.0 579.0 612.5)" dominant-baseline="central">E 75th St</text>
<text x="676.0" y="645.5" font-family="Liberation Sans" font-size="7.3" fill="#757575" font-weight="normal" text-anchor="middle" stroke="#fff" stroke-width="2" paint-order="stroke" stroke-linejoin="round" transform="rotate(29.0 676.0 645.5)" dominant-baseline="central">E 76th St</text>
<text x="665.7" y="660.7" font-family="Liberation Sans" font-size="7.3" fill="#757575" font-weight="normal" text-anchor="middle" stroke="#fff" stroke-width="2" paint-order="stroke" stroke-linejoin="round" transform="rotate(29.0 665.7 660.7)" dominant-baseline="central">E 75th St</text>
<text x="656.3" y="677.0" font-family="Liberation Sans" font-size="7.3" fill="#757575" font-weight="normal" text-anchor="middle" stroke="#fff" stroke-width="2" paint-order="stroke" stroke-linejoin="round" transform="rotate(29.0 656.3 677.0)" dominant-baseline="central">E 74th St</text>
<text x="638.0" y="711.0" font-family="Liberation Sans" font-size="7.3" fill="#757575" font-weight="normal" text-anchor="middle" stroke="#fff" stroke-width="2" paint-order="stroke" stroke-linejoin="round" transform="rotate(29.0 638.0 711.0)" dominant-baseline="central">E 72nd St</text>
<text x="528.0" y="604.0" font-family="Liberation Sans" font-size="7.3" fill="#757575" font-weight="normal" text-anchor="middle" stroke="#fff" stroke-width="2" paint-order="stroke" stroke-linejoin="round" transform="rotate(29.0 528.0 604.0)" dominant-baseline="central">E 74th St</text>
<text x="531.5" y="694.0" font-family="Liberation Sans" font-size="7.3" fill="#757575" font-weight="normal" text-anchor="middle" stroke="#fff" stroke-width="2" paint-order="stroke" stroke-linejoin="round" transform="rotate(29.0 531.5 694.0)" dominant-baseline="central">E 70th St</text>
<text x="684.0" y="414.5" font-family="Liberation Sans" font-size="7.3" fill="#757575" font-weight="normal" text-anchor="middle" stroke="#fff" stroke-width="2" paint-order="stroke" stroke-linejoin="round" transform="rotate(29.0 684.0 414.5)" dominant-baseline="central">E 87th St</text>
<text x="560.0" y="645.5" font-family="Liberation Sans" font-size="7.3" fill="#757575" font-weight="normal" text-anchor="middle" stroke="#fff" stroke-width="2" paint-order="stroke" stroke-linejoin="round" transform="rotate(29.0 560.0 645.5)" dominant-baseline="central">E 73rd St</text>
<text x="540.0" y="678.5" font-family="Liberation Sans" font-size="7.3" fill="#757575" font-weight="normal" text-anchor="middle" stroke="#fff" stroke-width="2" paint-order="stroke" stroke-linejoin="round" transform="rotate(29.0 540.0 678.5)" dominant-baseline="central">E 71st St</text>
<text x="490.0" y="479.0" font-family="Liberation Sans" font-size="9.4" fill="#505050" font-weight="normal" text-anchor="middle" stroke="#fff" stroke-width="2" paint-order="stroke" stroke-linejoin="round" transform="rotate(29.0 490.0 479.0)" dominant-baseline="central">E 79th St</text>
<text x="707.0" y="598.7" font-family="Liberation Sans" font-size="9.4" fill="#505050" font-weight="normal" text-anchor="middle" stroke="#fff" stroke-width="2" paint-order="stroke" stroke-linejoin="round" transform="rotate(29.0 707.0 598.7)" dominant-baseline="central">E 79th St</text>
<text x="650.3" y="695.3" font-family="Liberation Sans" font-size="9.4" fill="#505050" font-weight="normal" text-anchor="middle" stroke="#fff" stroke-width="2" paint-order="stroke" stroke-linejoin="round" transform="rotate(29.0 650.3 695.3)" dominant-baseline="central">E 73rd St</text>
<text x="608.5" y="717.4" font-family="Liberation Sans" font-size="9.4" fill="#505050" font-weight="normal" text-anchor="middle" stroke="#fff" stroke-width="2" paint-order="stroke" stroke-linejoin="round" transform="rotate(29.0 608.5 717.4)" dominant-baseline="central">E 71st St</text>
<text x="492.0" y="629.6" font-family="Liberation Sans" font-size="9.4" fill="#505050" font-weight="normal" text-anchor="middle" stroke="#fff" stroke-width="2" paint-order="stroke" stroke-linejoin="round" transform="rotate(29.0 492.0 629.6)" dominant-baseline="central">E 72nd St</text>
<text x="356.6" y="680.3" font-family="Liberation Sans" font-size="9.4" fill="#505050" font-weight="normal" text-anchor="middle" stroke="#fff" stroke-width="2" paint-order="stroke" stroke-linejoin="round" transform="rotate(29.0 356.6 680.3)" dominant-baseline="central">E 66th St</text>
<text x="363.7" y="707.0" font-family="Liberation Sans" font-size="9.4" fill="#505050" font-weight="normal" text-anchor="middle" stroke="#fff" stroke-width="2" paint-order="stroke" stroke-linejoin="round" transform="rotate(29.0 363.7 707.0)" dominant-baseline="central">E 65th St</text>
<text x="708.0" y="463.0" font-family="Liberation Sans" font-size="11.3" fill="#8093a8" font-weight="normal" text-anchor="middle" letter-spacing="3.1" stroke="#8093a8" stroke-width="0.55" dominant-baseline="central">YORKVILLE</text>
<text x="567.5" y="524.0" font-family="Liberation Sans" font-size="11.3" fill="#8093a8" font-weight="normal" text-anchor="middle" letter-spacing="3.1" stroke="#8093a8" stroke-width="0.55" dominant-baseline="central">UPPER</text>
<text x="567.5" y="538.0" font-family="Liberation Sans" font-size="11.3" fill="#8093a8" font-weight="normal" text-anchor="middle" letter-spacing="3.1" stroke="#8093a8" stroke-width="0.55" dominant-baseline="central">EAST SIDE</text>
<text x="496.5" y="716.0" font-family="Liberation Sans" font-size="11.3" fill="#8093a8" font-weight="normal" text-anchor="middle" letter-spacing="3.1" stroke="#8093a8" stroke-width="0.55" dominant-baseline="central">LENOX HILL</text>
<text x="263.0" y="441.0" font-family="Liberation Sans" font-size="11.0" fill="#5d97c2" font-weight="normal" text-anchor="middle" transform="rotate(-72.0 263.0 441.0)" dominant-baseline="central">The Lake</text>
<text x="145.0" y="462.0" font-family="Liberation Sans" font-size="10.5" fill="#2b9cdb" font-weight="normal" text-anchor="start" stroke="#fff" stroke-width="2" paint-order="stroke" stroke-linejoin="round" dominant-baseline="central">72 Street</text>
<text x="145.0" y="462.0" font-family="Liberation Sans" font-size="10.5" fill="#2b9cdb" font-weight="normal" text-anchor="start" stroke="#2b9cdb" stroke-width="0.25" stroke-linejoin="round" dominant-baseline="central">72 Street</text>
<rect x="188.8" y="456.8" width="10.4" height="10.4" rx="1.2" fill="#1bb6e8"/>
<path d="M191.4 465.2 v-6.4 l2.6 4.4 l2.6 -4.4 v6.4" fill="none" stroke="#fff" stroke-width="1.4"/>
<text x="95.0" y="522.0" font-family="Liberation Sans" font-size="10.5" fill="#2b9cdb" font-weight="normal" text-anchor="start" stroke="#fff" stroke-width="2" paint-order="stroke" stroke-linejoin="round" dominant-baseline="central">St - Lincoln</text>
<text x="95.0" y="522.0" font-family="Liberation Sans" font-size="10.5" fill="#2b9cdb" font-weight="normal" text-anchor="start" stroke="#2b9cdb" stroke-width="0.25" stroke-linejoin="round" dominant-baseline="central">St - Lincoln</text>
<text x="93.0" y="533.0" font-family="Liberation Sans" font-size="10.5" fill="#2b9cdb" font-weight="normal" text-anchor="start" stroke="#fff" stroke-width="2" paint-order="stroke" stroke-linejoin="round" dominant-baseline="central">nter Subway</text>
<text x="93.0" y="533.0" font-family="Liberation Sans" font-size="10.5" fill="#2b9cdb" font-weight="normal" text-anchor="start" stroke="#2b9cdb" stroke-width="0.25" stroke-linejoin="round" dominant-baseline="central">nter Subway</text>
<text x="95.0" y="656.0" font-family="Liberation Sans" font-size="10.5" fill="#2b9cdb" font-weight="normal" text-anchor="start" stroke="#fff" stroke-width="2" paint-order="stroke" stroke-linejoin="round" dominant-baseline="central">59 St - Columbus Circle</text>
<text x="95.0" y="656.0" font-family="Liberation Sans" font-size="10.5" fill="#2b9cdb" font-weight="normal" text-anchor="start" stroke="#2b9cdb" stroke-width="0.25" stroke-linejoin="round" dominant-baseline="central">59 St - Columbus Circle</text>
<text x="598.0" y="421.5" font-family="Liberation Sans" font-size="10.5" fill="#2b9cdb" font-weight="normal" text-anchor="start" stroke="#fff" stroke-width="2" paint-order="stroke" stroke-linejoin="round" dominant-baseline="central">86th Street</text>
<text x="598.0" y="421.5" font-family="Liberation Sans" font-size="10.5" fill="#2b9cdb" font-weight="normal" text-anchor="start" stroke="#2b9cdb" stroke-width="0.25" stroke-linejoin="round" dominant-baseline="central">86th Street</text>
<rect x="651.8" y="416.3" width="10.4" height="10.4" rx="1.2" fill="#1bb6e8"/>
<path d="M654.4 424.7 v-6.4 l2.6 4.4 l2.6 -4.4 v6.4" fill="none" stroke="#fff" stroke-width="1.4"/>
<text x="472.0" y="528.0" font-family="Liberation Sans" font-size="10.5" fill="#2b9cdb" font-weight="normal" text-anchor="start" stroke="#fff" stroke-width="2" paint-order="stroke" stroke-linejoin="round" dominant-baseline="central">77 St</text>
<text x="472.0" y="528.0" font-family="Liberation Sans" font-size="10.5" fill="#2b9cdb" font-weight="normal" text-anchor="start" stroke="#2b9cdb" stroke-width="0.25" stroke-linejoin="round" dominant-baseline="central">77 St</text>
<rect x="497.8" y="522.8" width="10.4" height="10.4" rx="1.2" fill="#1bb6e8"/>
<path d="M500.4 531.2 v-6.4 l2.6 4.4 l2.6 -4.4 v6.4" fill="none" stroke="#fff" stroke-width="1.4"/>
<text x="440.0" y="654.5" font-family="Liberation Sans" font-size="10.5" fill="#2b9cdb" font-weight="normal" text-anchor="start" stroke="#fff" stroke-width="2" paint-order="stroke" stroke-linejoin="round" dominant-baseline="central">72 Street Subway</text>
<text x="440.0" y="654.5" font-family="Liberation Sans" font-size="10.5" fill="#2b9cdb" font-weight="normal" text-anchor="start" stroke="#2b9cdb" stroke-width="0.25" stroke-linejoin="round" dominant-baseline="central">72 Street Subway</text>
<rect x="524.8" y="649.3" width="10.4" height="10.4" rx="1.2" fill="#1bb6e8"/>
<path d="M527.4 657.7 v-6.4 l2.6 4.4 l2.6 -4.4 v6.4" fill="none" stroke="#fff" stroke-width="1.4"/>
<text x="375.0" y="675.0" font-family="Liberation Sans" font-size="10.5" fill="#2b9cdb" font-weight="normal" text-anchor="start" stroke="#fff" stroke-width="2" paint-order="stroke" stroke-linejoin="round" dominant-baseline="central">68 Street</text>
<text x="375.0" y="675.0" font-family="Liberation Sans" font-size="10.5" fill="#2b9cdb" font-weight="normal" text-anchor="start" stroke="#2b9cdb" stroke-width="0.25" stroke-linejoin="round" dominant-baseline="central">68 Street</text>
<rect x="420.8" y="669.8" width="10.4" height="10.4" rx="1.2" fill="#1bb6e8"/>
<path d="M423.4 678.2 v-6.4 l2.6 4.4 l2.6 -4.4 v6.4" fill="none" stroke="#fff" stroke-width="1.4"/>
<rect x="102.8" y="727.8" width="10.4" height="10.4" rx="1.2" fill="#1bb6e8"/>
<path d="M105.4 736.2 v-6.4 l2.6 4.4 l2.6 -4.4 v6.4" fill="none" stroke="#fff" stroke-width="1.4"/>
<defs><linearGradient id="mg" x1="0" y1="0" x2="0" y2="1"><stop offset="0" stop-color="#3b7fbd"/><stop offset="0.55" stop-color="#4d93cf"/><stop offset="0.75" stop-color="#5a9fd8"/><stop offset="0.8" stop-color="#3676b3"/><stop offset="1" stop-color="#2f6eaa"/></linearGradient><linearGradient id="mgd" x1="0" y1="0" x2="0" y2="1"><stop offset="0" stop-color="#4480b3"/><stop offset="1" stop-color="#1f4f80"/></linearGradient></defs>
<g transform="translate(457.0 483.0)"><path d="M-7.2 -6.7 h14.4 v11 h-3.8 l-3.4 3.4 l-3.4 -3.4 h-3.8z" fill="url(#mg)" stroke="#2a6196" stroke-width="0.8"/>
<text x="0" y="2.6" font-family="Liberation Sans" font-size="9.2" fill="#fff" text-anchor="middle">20</text>
</g>
<g transform="translate(443.3 515.5)"><path d="M-7.2 -6.7 h14.4 v11 h-3.8 l-3.4 3.4 l-3.4 -3.4 h-3.8z" fill="url(#mg)" stroke="#2a6196" stroke-width="0.8"/>
<text x="0" y="2.6" font-family="Liberation Sans" font-size="9.2" fill="#fff" text-anchor="middle">9</text>
</g>
<g transform="translate(390.5 537.2)"><path d="M-7.2 -6.7 h14.4 v11 h-3.8 l-3.4 3.4 l-3.4 -3.4 h-3.8z" fill="url(#mg)" stroke="#2a6196" stroke-width="0.8"/>
<text x="0" y="2.6" font-family="Liberation Sans" font-size="9.2" fill="#fff" text-anchor="middle">2</text>
</g>
<g transform="translate(398.4 533.3)"><path d="M-7.2 -6.7 h14.4 v11 h-3.8 l-3.4 3.4 l-3.4 -3.4 h-3.8z" fill="url(#mg)" stroke="#2a6196" stroke-width="0.8"/>
<text x="0" y="2.6" font-family="Liberation Sans" font-size="9.2" fill="#fff" text-anchor="middle">4</text>
</g>
<g transform="translate(470.2 538.6)"><path d="M-7.2 -6.7 h14.4 v11 h-3.8 l-3.4 3.4 l-3.4 -3.4 h-3.8z" fill="url(#mg)" stroke="#2a6196" stroke-width="0.8"/>
<text x="0" y="2.6" font-family="Liberation Sans" font-size="9.2" fill="#fff" text-anchor="middle">10</text>
</g>
<g transform="translate(502.6 569.9)"><path d="M-7.2 -6.7 h14.4 v11 h-3.8 l-3.4 3.4 l-3.4 -3.4 h-3.8z" fill="url(#mg)" stroke="#2a6196" stroke-width="0.8"/>
<text x="0" y="2.6" font-family="Liberation Sans" font-size="9.2" fill="#fff" text-anchor="middle">19</text>
</g>
<g transform="translate(489.1 582.9)"><path d="M-7.2 -6.7 h14.4 v11 h-3.8 l-3.4 3.4 l-3.4 -3.4 h-3.8z" fill="url(#mg)" stroke="#2a6196" stroke-width="0.8"/>
<text x="0" y="2.6" font-family="Liberation Sans" font-size="9.2" fill="#fff" text-anchor="middle">12</text>
</g>
<g transform="translate(420.6 590.8)"><path d="M-7.2 -6.7 h14.4 v11 h-3.8 l-3.4 3.4 l-3.4 -3.4 h-3.8z" fill="url(#mg)" stroke="#2a6196" stroke-width="0.8"/>
<text x="0" y="2.6" font-family="Liberation Sans" font-size="9.2" fill="#fff" text-anchor="middle">1</text>
</g>
<g transform="translate(484.0 610.3)"><path d="M-7.2 -6.7 h14.4 v11 h-3.8 l-3.4 3.4 l-3.4 -3.4 h-3.8z" fill="url(#mg)" stroke="#2a6196" stroke-width="0.8"/>
<text x="0" y="2.6" font-family="Liberation Sans" font-size="9.2" fill="#fff" text-anchor="middle">14</text>
</g>
<g transform="translate(394.4 617.8)"><path d="M-7.2 -6.7 h14.4 v11 h-3.8 l-3.4 3.4 l-3.4 -3.4 h-3.8z" fill="url(#mg)" stroke="#2a6196" stroke-width="0.8"/>
<text x="0" y="2.6" font-family="Liberation Sans" font-size="9.2" fill="#fff" text-anchor="middle">3</text>
</g>
<g transform="translate(417.2 628.2)"><path d="M-7.2 -6.7 h14.4 v11 h-3.8 l-3.4 3.4 l-3.4 -3.4 h-3.8z" fill="url(#mg)" stroke="#2a6196" stroke-width="0.8"/>
<text x="0" y="2.6" font-family="Liberation Sans" font-size="9.2" fill="#fff" text-anchor="middle">5</text>
</g>
<g transform="translate(423.4 629.6)"><path d="M-7.2 -6.7 h14.4 v11 h-3.8 l-3.4 3.4 l-3.4 -3.4 h-3.8z" fill="url(#mg)" stroke="#2a6196" stroke-width="0.8"/>
<text x="0" y="2.6" font-family="Liberation Sans" font-size="9.2" fill="#fff" text-anchor="middle">6</text>
</g>
<g transform="translate(465.4 636.6)"><path d="M-7.2 -6.7 h14.4 v11 h-3.8 l-3.4 3.4 l-3.4 -3.4 h-3.8z" fill="url(#mg)" stroke="#2a6196" stroke-width="0.8"/>
<text x="0" y="2.6" font-family="Liberation Sans" font-size="9.2" fill="#fff" text-anchor="middle">11</text>
</g>
<g transform="translate(377.2 656.9)"><path d="M-7.2 -6.7 h14.4 v11 h-3.8 l-3.4 3.4 l-3.4 -3.4 h-3.8z" fill="url(#mg)" stroke="#2a6196" stroke-width="0.8"/>
<text x="0" y="2.6" font-family="Liberation Sans" font-size="9.2" fill="#fff" text-anchor="middle">7</text>
</g>
<g transform="translate(470.2 658.2)"><path d="M-7.2 -6.7 h14.4 v11 h-3.8 l-3.4 3.4 l-3.4 -3.4 h-3.8z" fill="url(#mgd)" stroke="#2a6196" stroke-width="0.8"/>
<text x="0" y="2.6" font-family="Liberation Sans" font-size="9.2" fill="#fff" text-anchor="middle">18</text>
</g>
<g transform="translate(384.8 572.9) scale(1.00)"><path d="M0 14.5 C-2.5 9 -9.3 5.5 -9.3 -0.5 A9.3 9.3 0 1 1 9.3 -0.5 C9.3 5.5 2.5 9 0 14.5Z" fill="#f2b21d" stroke="#d99a14" stroke-width="0.6"/><circle cx="0" cy="-0.8" r="5.6" fill="#fff"/><text x="0" y="2" font-family="Liberation Sans" font-size="8" font-weight="bold" fill="#111" text-anchor="middle">S</text></g>
<text x="98.5" y="727" font-family="Liberation Sans" font-size="15" font-weight="bold" fill="#fff" stroke="#5a5a5a" stroke-width="2.4" paint-order="stroke" stroke-linejoin="round" letter-spacing="-0.9" textLength="46" lengthAdjust="spacingAndGlyphs">Google</text>
<rect x="669" y="717" width="103" height="14" fill="#f3f3f3" fill-opacity="0.75"/>
<text x="673.5" y="727.6" font-family="Liberation Sans" font-size="8.9" fill="#5a5a5a">Map data ©2019 Google</text>
</svg>
<!-- LEGEND -->
<svg class="abs" style="left:92px;top:732px" width="400" height="33" viewBox="92 732 400 33">
<g transform="translate(104 747.3) scale(1.04)"><path d="M0 14.5 C-2.5 9 -9.3 5.5 -9.3 -0.5 A9.3 9.3 0 1 1 9.3 -0.5 C9.3 5.5 2.5 9 0 14.5Z" fill="#f2b21d" stroke="#d99a14" stroke-width="0.6"/><circle cx="0" cy="-0.8" r="5.6" fill="#fff"/><text x="0" y="2" font-family="Liberation Sans" font-size="8" font-weight="bold" fill="#111" text-anchor="middle">S</text></g>
<defs><linearGradient id="lb" x1="0" y1="0" x2="0" y2="1"><stop offset="0" stop-color="#66a9de"/><stop offset="0.5" stop-color="#4f95d2"/><stop offset="1" stop-color="#3a7fc0"/></linearGradient>
<linearGradient id="lo" x1="0" y1="0" x2="0" y2="1"><stop offset="0" stop-color="#f79a55"/><stop offset="1" stop-color="#e8641b"/></linearGradient></defs>
<path transform="translate(198.1 749.2)" d="M-8 -7.8 h16 v11.7 h-3 l-5 4 l-5 -4 h-3z" fill="url(#lb)" stroke="#275f93" stroke-width="0.8"/>
<path transform="translate(295.1 749.2)" d="M-8 -7.8 h16 v11.7 h-3 l-5 4 l-5 -4 h-3z" fill="url(#lo)" stroke="#c65a1c" stroke-width="0.8"/>
<rect x="385.5" y="742.5" width="13" height="13" fill="#2e9a12" stroke="#1d6b0a" stroke-width="1"/>

</svg>
<div class="t" style="top:47.42px;font-size:22.3px;letter-spacing:0.900px;color:#14b6d5;transform:scaleX(0.8594);transform-origin:right center;-webkit-text-stroke:0.35px #14b6d5;font-weight:bold;right:43.60px;">COMPARABLES REPORT</div>
<div class="t" style="top:87.94px;font-size:12px;letter-spacing:1.468px;color:#111;font-weight:bold;-webkit-text-stroke:0.28px #111;left:47.50px;">Subject Property Location</div>
<div class="t" style="top:109.51px;font-size:10.5px;letter-spacing:0.471px;color:#111;font-weight:bold;-webkit-text-stroke:0.28px #111;left:47.50px;">Property Address</div>
<div class="t" style="top:126.31px;font-size:10.5px;letter-spacing:0.704px;color:#111;font-weight:bold;-webkit-text-stroke:0.28px #111;left:47.50px;">City, State &amp; Zip</div>
<div class="t" style="top:109.27px;font-size:9.6px;letter-spacing:-0.135px;color:#111;left:183.10px;">9 E 71ST ST</div>
<div class="t" style="top:126.17px;font-size:9.6px;letter-spacing:0.012px;color:#111;left:183.10px;">NEW YORK, NY 10021-4102</div>
<div class="t" style="top:93.87px;font-size:9.6px;letter-spacing:0.369px;color:#111;right:44.33px;">Report Date: 06/27/2019</div>
<div class="t" style="top:108.57px;font-size:9.6px;letter-spacing:0.183px;color:#111;right:44.52px;">Order ID: R3563450</div>
<div class="t" style="top:159.89px;font-size:12.3px;letter-spacing:1.483px;color:#fff;font-weight:bold;-webkit-text-stroke:0.28px #fff;left:48.60px;">Comparables Overview</div>
<div class="t" style="top:178.41px;font-size:10.5px;letter-spacing:0.544px;color:#111;font-weight:bold;-webkit-text-stroke:0.28px #111;left:165.00px;">Subject</div>
<div class="t" style="top:178.41px;font-size:10.5px;letter-spacing:0.219px;color:#111;font-weight:bold;-webkit-text-stroke:0.28px #111;left:318.20px;">High Comparable</div>
<div class="t" style="top:178.41px;font-size:10.5px;letter-spacing:0.369px;color:#111;font-weight:bold;-webkit-text-stroke:0.28px #111;left:470.60px;">Low Comparable</div>
<div class="t" style="top:178.41px;font-size:10.5px;letter-spacing:0.640px;color:#111;font-weight:bold;-webkit-text-stroke:0.28px #111;left:623.70px;">Average</div>
<div class="t" style="top:199.51px;font-size:10.5px;letter-spacing:0.281px;color:#111;font-weight:bold;-webkit-text-stroke:0.28px #111;left:48.30px;">Address</div>
<div class="t" style="top:220.91px;font-size:10.5px;letter-spacing:0.596px;color:#111;font-weight:bold;-webkit-text-stroke:0.28px #111;left:48.30px;">Distance (Mi)</div>
<div class="t" style="top:243.11px;font-size:10.5px;letter-spacing:0.118px;color:#111;font-weight:bold;-webkit-text-stroke:0.28px #111;left:48.30px;">Subdivision</div>
<div class="t" style="top:264.61px;font-size:10.5px;letter-spacing:0.764px;color:#111;font-weight:bold;-webkit-text-stroke:0.28px #111;left:48.30px;">APN</div>
<div class="t" style="top:281.71px;font-size:10.5px;letter-spacing:0.407px;color:#111;font-weight:bold;-webkit-text-stroke:0.28px #111;left:48.30px;">Recording Date</div>
<div class="t" style="top:298.91px;font-size:10.5px;letter-spacing:0.278px;color:#111;font-weight:bold;-webkit-text-stroke:0.28px #111;left:48.30px;">Purchase Price</div>
<div class="t" style="top:316.21px;font-size:10.5px;letter-spacing:0.605px;color:#111;font-weight:bold;-webkit-text-stroke:0.28px #111;left:48.30px;">Living Area (SF)</div>
<div class="t" style="top:333.51px;font-size:10.5px;letter-spacing:0.856px;color:#111;font-weight:bold;-webkit-text-stroke:0.28px #111;left:48.30px;">Price ($/SF)</div>
<div class="t" style="top:350.71px;font-size:10.5px;letter-spacing:0.695px;color:#111;font-weight:bold;-webkit-text-stroke:0.28px #111;left:48.30px;">Lot Size (SF/AC)</div>
<div class="t" style="top:367.91px;font-size:10.5px;letter-spacing:1.137px;color:#111;font-weight:bold;-webkit-text-stroke:0.28px #111;left:48.30px;">BR/BA</div>
<div class="t" style="top:385.31px;font-size:10.5px;letter-spacing:0.662px;color:#111;font-weight:bold;-webkit-text-stroke:0.28px #111;left:48.30px;">Year Built</div>
<div class="t" style="top:194.17px;font-size:9.6px;letter-spacing:-0.115px;color:#111;left:164.90px;">9 E 71ST ST</div>
<div class="t" style="top:205.47px;font-size:9.6px;letter-spacing:0.000px;color:#111;left:164.90px;">NEW YORK, NY 10021-4102</div>
<div class="t" style="top:194.17px;font-size:9.6px;letter-spacing:0.237px;color:#111;left:318.10px;">4 E 74TH ST # 5</div>
<div class="t" style="top:205.47px;font-size:9.6px;letter-spacing:0.000px;color:#111;left:318.10px;">NEW YORK, NY 10021-2605</div>
<div class="t" style="top:194.17px;font-size:9.6px;letter-spacing:0.194px;color:#111;left:470.50px;">157-163 E 72ND ST # 6B</div>
<div class="t" style="top:205.47px;font-size:9.6px;letter-spacing:-0.142px;color:#111;left:470.50px;">NEW YORK, NY 10021</div>
<div class="t" style="top:194.17px;font-size:9.6px;letter-spacing:-0.132px;color:#111;left:623.60px;">923 5TH AVE APT 3B</div>
<div class="t" style="top:205.47px;font-size:9.6px;letter-spacing:0.000px;color:#111;left:623.60px;">NEW YORK, NY 10021-2681</div>
<div class="t" style="top:221.17px;font-size:9.6px;letter-spacing:0.100px;color:#111;left:318.10px;">0.13</div>
<div class="t" style="top:221.17px;font-size:9.6px;letter-spacing:0.100px;color:#111;left:470.50px;">0.29</div>
<div class="t" style="top:221.17px;font-size:9.6px;letter-spacing:0.100px;color:#111;left:623.60px;">0.11</div>
<div class="t" style="top:237.27px;font-size:9.6px;letter-spacing:-0.293px;color:#111;left:470.50px;">157 EAST 72ND STREET</div>
<div class="t" style="top:248.57px;font-size:9.6px;letter-spacing:-0.289px;color:#111;left:470.50px;">CONDOMINIUM</div>
<div class="t" style="top:264.37px;font-size:9.6px;letter-spacing:0.100px;color:#111;left:164.90px;">01386-0010</div>
<div class="t" style="top:264.37px;font-size:9.6px;letter-spacing:0.100px;color:#111;left:318.10px;">01388-0067</div>
<div class="t" style="top:264.37px;font-size:9.6px;letter-spacing:0.100px;color:#111;left:470.50px;">01407-1059</div>
<div class="t" style="top:264.37px;font-size:9.6px;letter-spacing:0.100px;color:#111;left:623.60px;">01388-1013</div>
<div class="t" style="top:281.77px;font-size:9.6px;letter-spacing:0.256px;color:#111;left:164.90px;">01/10/2012</div>
<div class="t" style="top:281.77px;font-size:9.6px;letter-spacing:0.256px;color:#111;left:318.10px;">10/05/2018</div>
<div class="t" style="top:281.77px;font-size:9.6px;letter-spacing:0.256px;color:#111;left:470.50px;">10/25/2018</div>
<div class="t" style="top:281.77px;font-size:9.6px;letter-spacing:0.256px;color:#111;left:623.60px;">04/08/2019</div>
<div class="t" style="top:299.17px;font-size:9.6px;letter-spacing:0.100px;color:#111;left:318.10px;">$31,950,000</div>
<div class="t" style="top:299.17px;font-size:9.6px;letter-spacing:0.100px;color:#111;left:470.50px;">$565,000</div>
<div class="t" style="top:299.17px;font-size:9.6px;letter-spacing:0.100px;color:#111;left:623.60px;">$2,420,000</div>
<div class="t" style="top:316.47px;font-size:9.6px;letter-spacing:0.100px;color:#111;left:164.90px;">18,814</div>
<div class="t" style="top:316.47px;font-size:9.6px;letter-spacing:0.100px;color:#111;left:318.10px;">9,413</div>
<div class="t" style="top:316.47px;font-size:9.6px;letter-spacing:0.100px;color:#111;left:470.50px;">360</div>
<div class="t" style="top:316.47px;font-size:9.6px;letter-spacing:0.100px;color:#111;left:623.60px;">1,100</div>
<div class="t" style="top:333.67px;font-size:9.6px;letter-spacing:0.188px;color:#111;left:318.10px;">$3,394/SF</div>
<div class="t" style="top:333.67px;font-size:9.6px;letter-spacing:0.188px;color:#111;left:470.50px;">$1,569/SF</div>
<div class="t" style="top:333.67px;font-size:9.6px;letter-spacing:0.188px;color:#111;left:623.60px;">$2,200/SF</div>
<div class="t" style="top:350.77px;font-size:9.6px;letter-spacing:0.188px;color:#111;left:164.90px;">5,108/.12</div>
<div class="t" style="top:350.77px;font-size:9.6px;letter-spacing:0.188px;color:#111;left:318.10px;">2,529/.06</div>
<div class="t" style="top:350.77px;font-size:9.6px;letter-spacing:0.178px;color:#111;left:470.50px;">10,217/.23</div>
<div class="t" style="top:368.17px;font-size:9.6px;letter-spacing:0.450px;color:#111;left:164.90px;">0/0</div>
<div class="t" style="top:368.17px;font-size:9.6px;letter-spacing:0.450px;color:#111;left:318.10px;">0/0</div>
<div class="t" style="top:368.17px;font-size:9.6px;letter-spacing:0.450px;color:#111;left:470.50px;">0/0</div>
<div class="t" style="top:368.17px;font-size:9.6px;letter-spacing:0.450px;color:#111;left:623.60px;">0/0</div>
<div class="t" style="top:385.57px;font-size:9.6px;letter-spacing:0.100px;color:#111;left:164.90px;">1910</div>
<div class="t" style="top:385.57px;font-size:9.6px;letter-spacing:0.100px;color:#111;left:318.10px;">1910</div>
<div class="t" style="top:385.57px;font-size:9.6px;letter-spacing:0.100px;color:#111;left:470.50px;">1923</div>
<div class="t" style="top:385.57px;font-size:9.6px;letter-spacing:0.100px;color:#111;left:623.60px;">1982</div>
<div class="t" style="top:744.67px;font-size:9.6px;letter-spacing:0.067px;color:#111;left:118.30px;">Subject</div>
<div class="t" style="top:744.67px;font-size:9.6px;letter-spacing:-0.020px;color:#111;left:211.00px;">Standard Sale</div>
<div class="t" style="top:744.67px;font-size:9.6px;letter-spacing:-0.113px;color:#111;left:307.30px;">Distressed Sale</div>
<div class="t" style="top:744.67px;font-size:9.6px;letter-spacing:-0.059px;color:#111;left:405.30px;">Active Listings</div>
<div class="t" style="top:987.02px;font-size:8.6px;letter-spacing:0.805px;color:#111;left:380.30px;">Page 1 of 12</div>
<div class="t" style="top:996.98px;font-size:10.3px;letter-spacing:0.009px;color:#111;left:607.70px;">SDNY_GM_00173816</div>
<div class="t" style="top:1025.96px;font-size:13.3px;letter-spacing:-0.068px;color:#111;font-family:'Liberation Serif';left:705.00px;">EFTA_00195471</div>
</body></html>
